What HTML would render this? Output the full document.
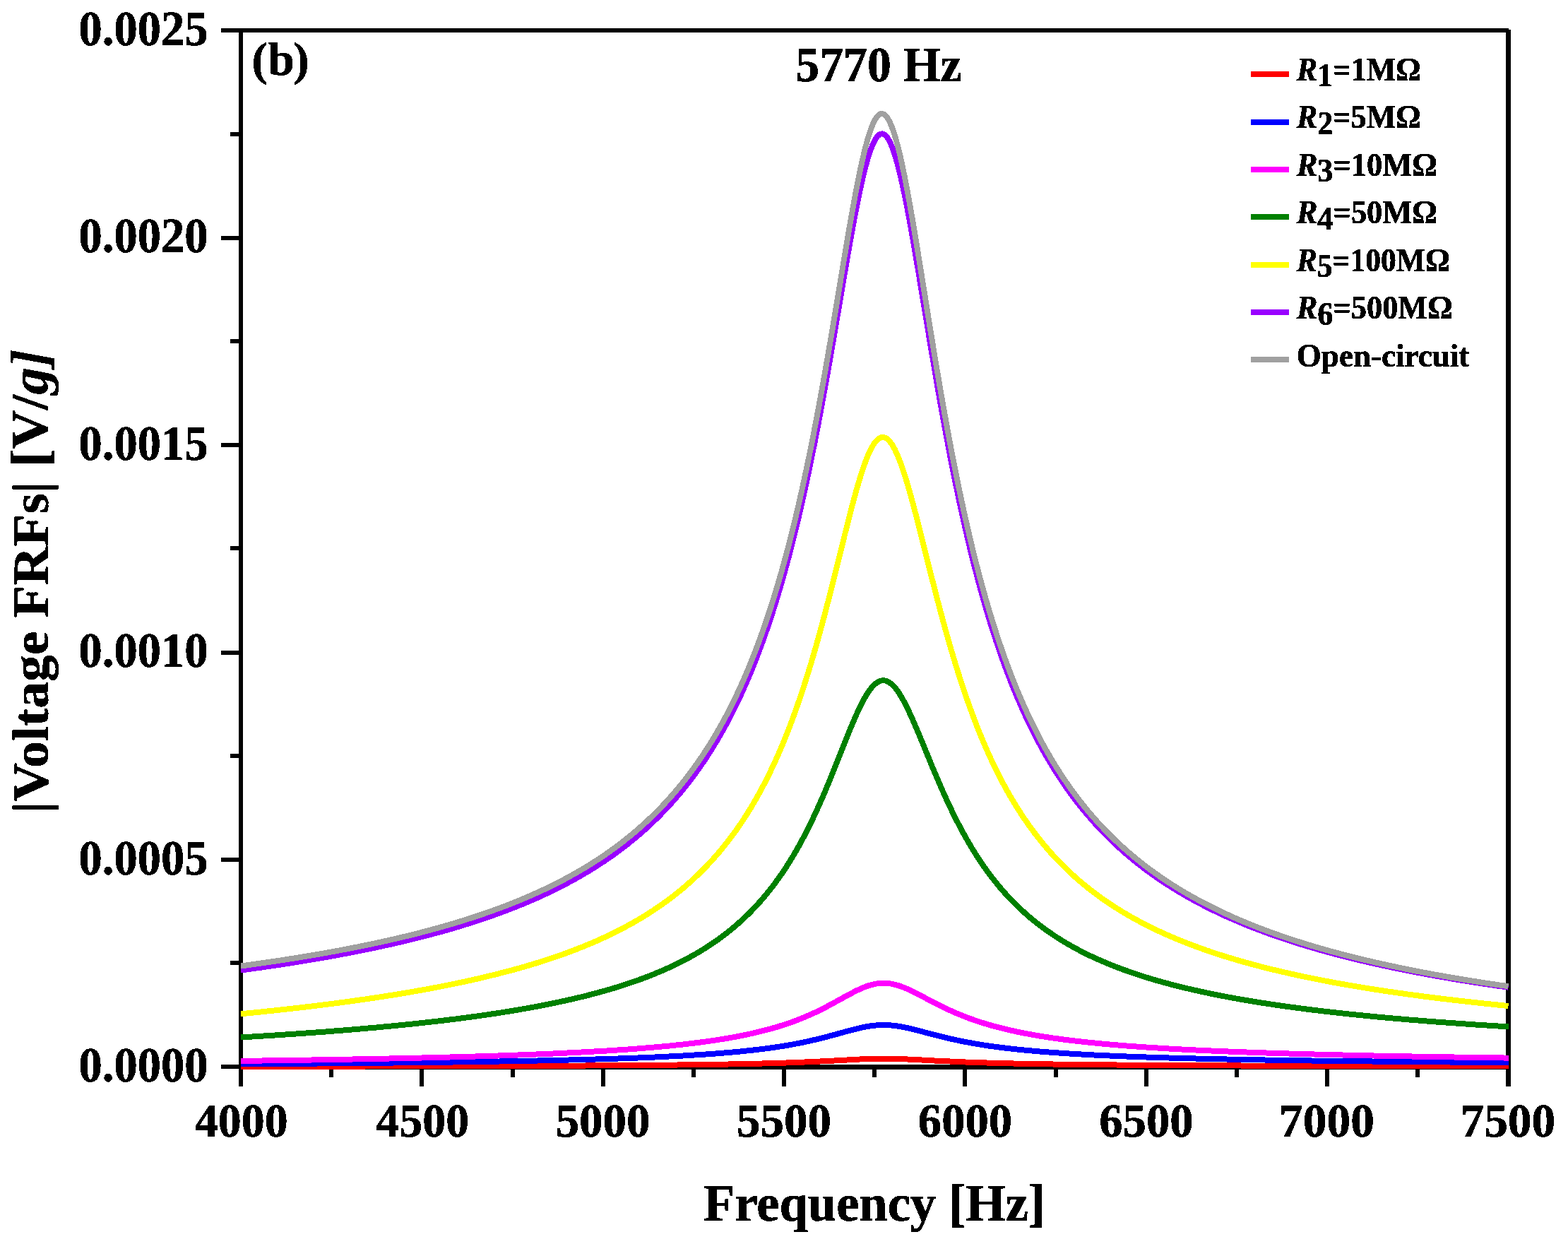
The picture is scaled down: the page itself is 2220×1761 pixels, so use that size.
<!DOCTYPE html>
<html lang="en">
<head>
<meta charset="utf-8">
<title>Voltage FRFs</title>
<style>
html,body{margin:0;padding:0;background:#fff;}
body{width:2220px;height:1761px;overflow:hidden;}
svg{display:block;}
text{font-family:'Liberation Serif','Times New Roman',serif;font-weight:bold;fill:#000;stroke:#000;stroke-width:0.7px;stroke-linejoin:round;}
.ax{fill:#000;shape-rendering:crispEdges;}
.cv{fill:none;stroke-linejoin:round;stroke-linecap:butt;shape-rendering:crispEdges;}
</style>
</head>
<body>
<svg width="2220" height="1761" viewBox="0 0 2220 1761">
<defs>
<filter id="bin" x="-5%" y="-10%" width="110%" height="120%" color-interpolation-filters="sRGB">
<feComponentTransfer><feFuncA type="discrete" tableValues="0 1"/></feComponentTransfer>
</filter>
</defs>
<rect x="0" y="0" width="2220" height="1761" fill="#ffffff"/>
<g class="ax">
<rect x="338" y="40" width="6" height="1498"/>
<rect x="313" y="40" width="1823" height="6"/>
<rect x="2132" y="42" width="7" height="1496"/>
<rect x="313" y="1507" width="25" height="6"/>
<rect x="338" y="1507" width="1801" height="7"/>
<rect x="313" y="334" width="25" height="6"/>
<rect x="313" y="627" width="25" height="6"/>
<rect x="313" y="921" width="25" height="6"/>
<rect x="313" y="1214" width="25" height="6"/>
<rect x="326" y="187" width="12" height="6"/>
<rect x="326" y="480" width="12" height="6"/>
<rect x="326" y="773" width="12" height="6"/>
<rect x="326" y="1067" width="12" height="6"/>
<rect x="326" y="1360" width="12" height="6"/>
<rect x="594" y="1510" width="6" height="28"/>
<rect x="851" y="1510" width="6" height="28"/>
<rect x="1107" y="1510" width="6" height="28"/>
<rect x="1363" y="1510" width="6" height="28"/>
<rect x="1620" y="1510" width="6" height="28"/>
<rect x="1876" y="1510" width="6" height="28"/>
<rect x="466" y="1510" width="6" height="15"/>
<rect x="723" y="1510" width="6" height="15"/>
<rect x="979" y="1510" width="6" height="15"/>
<rect x="1235" y="1510" width="6" height="15"/>
<rect x="1492" y="1510" width="6" height="15"/>
<rect x="1748" y="1510" width="6" height="15"/>
<rect x="2004" y="1510" width="6" height="15"/>
</g>
<g class="cv" stroke-width="8">
<path stroke="#ff0000" d="M341.0 1509.7 L343.0 1509.7 L345.0 1509.7 L347.0 1509.7 L349.0 1509.7 L351.0 1509.7 L353.0 1509.7 L355.0 1509.7 L357.0 1509.7 L359.0 1509.7 L361.0 1509.7 L363.0 1509.7 L365.0 1509.7 L367.0 1509.7 L369.0 1509.7 L371.0 1509.7 L373.0 1509.7 L375.0 1509.7 L377.0 1509.7 L379.0 1509.7 L381.0 1509.7 L383.0 1509.7 L385.0 1509.7 L387.0 1509.7 L389.0 1509.7 L391.0 1509.7 L393.0 1509.7 L395.0 1509.7 L397.0 1509.6 L399.0 1509.6 L401.0 1509.6 L403.0 1509.6 L405.0 1509.6 L407.0 1509.6 L409.0 1509.6 L411.0 1509.6 L413.0 1509.6 L415.0 1509.6 L417.0 1509.6 L419.0 1509.6 L421.0 1509.6 L423.0 1509.6 L425.0 1509.6 L427.0 1509.6 L429.0 1509.6 L431.0 1509.6 L433.0 1509.6 L435.0 1509.6 L437.0 1509.6 L439.0 1509.6 L441.0 1509.6 L443.0 1509.6 L445.0 1509.6 L447.0 1509.6 L449.0 1509.6 L451.0 1509.6 L453.0 1509.6 L455.0 1509.6 L457.0 1509.6 L459.0 1509.6 L461.0 1509.6 L463.0 1509.5 L465.0 1509.5 L467.0 1509.5 L469.0 1509.5 L471.0 1509.5 L473.0 1509.5 L475.0 1509.5 L477.0 1509.5 L479.0 1509.5 L481.0 1509.5 L483.0 1509.5 L485.0 1509.5 L487.0 1509.5 L489.0 1509.5 L491.0 1509.5 L493.0 1509.5 L495.0 1509.5 L497.0 1509.5 L499.0 1509.5 L501.0 1509.5 L503.0 1509.5 L505.0 1509.5 L507.0 1509.5 L509.0 1509.5 L511.0 1509.5 L513.0 1509.5 L515.0 1509.5 L517.0 1509.5 L519.0 1509.4 L521.0 1509.4 L523.0 1509.4 L525.0 1509.4 L527.0 1509.4 L529.0 1509.4 L531.0 1509.4 L533.0 1509.4 L535.0 1509.4 L537.0 1509.4 L539.0 1509.4 L541.0 1509.4 L543.0 1509.4 L545.0 1509.4 L547.0 1509.4 L549.0 1509.4 L551.0 1509.4 L553.0 1509.4 L555.0 1509.4 L557.0 1509.4 L559.0 1509.4 L561.0 1509.4 L563.0 1509.4 L565.0 1509.4 L567.0 1509.4 L569.0 1509.3 L571.0 1509.3 L573.0 1509.3 L575.0 1509.3 L577.0 1509.3 L579.0 1509.3 L581.0 1509.3 L583.0 1509.3 L585.0 1509.3 L587.0 1509.3 L589.0 1509.3 L591.0 1509.3 L593.0 1509.3 L595.0 1509.3 L597.0 1509.3 L599.0 1509.3 L601.0 1509.3 L603.0 1509.3 L605.0 1509.3 L607.0 1509.3 L609.0 1509.3 L611.0 1509.3 L613.0 1509.2 L615.0 1509.2 L617.0 1509.2 L619.0 1509.2 L621.0 1509.2 L623.0 1509.2 L625.0 1509.2 L627.0 1509.2 L629.0 1509.2 L631.0 1509.2 L633.0 1509.2 L635.0 1509.2 L637.0 1509.2 L639.0 1509.2 L641.0 1509.2 L643.0 1509.2 L645.0 1509.2 L647.0 1509.2 L649.0 1509.2 L651.0 1509.1 L653.0 1509.1 L655.0 1509.1 L657.0 1509.1 L659.0 1509.1 L661.0 1509.1 L663.0 1509.1 L665.0 1509.1 L667.0 1509.1 L669.0 1509.1 L671.0 1509.1 L673.0 1509.1 L675.0 1509.1 L677.0 1509.1 L679.0 1509.1 L681.0 1509.1 L683.0 1509.1 L685.0 1509.0 L687.0 1509.0 L689.0 1509.0 L691.0 1509.0 L693.0 1509.0 L695.0 1509.0 L697.0 1509.0 L699.0 1509.0 L701.0 1509.0 L703.0 1509.0 L705.0 1509.0 L707.0 1509.0 L709.0 1509.0 L711.0 1509.0 L713.0 1509.0 L715.0 1508.9 L717.0 1508.9 L719.0 1508.9 L721.0 1508.9 L723.0 1508.9 L725.0 1508.9 L727.0 1508.9 L729.0 1508.9 L731.0 1508.9 L733.0 1508.9 L735.0 1508.9 L737.0 1508.9 L739.0 1508.9 L741.0 1508.9 L743.0 1508.8 L745.0 1508.8 L747.0 1508.8 L749.0 1508.8 L751.0 1508.8 L753.0 1508.8 L755.0 1508.8 L757.0 1508.8 L759.0 1508.8 L761.0 1508.8 L763.0 1508.8 L765.0 1508.8 L767.0 1508.8 L769.0 1508.7 L771.0 1508.7 L773.0 1508.7 L775.0 1508.7 L777.0 1508.7 L779.0 1508.7 L781.0 1508.7 L783.0 1508.7 L785.0 1508.7 L787.0 1508.7 L789.0 1508.7 L791.0 1508.6 L793.0 1508.6 L795.0 1508.6 L797.0 1508.6 L799.0 1508.6 L801.0 1508.6 L803.0 1508.6 L805.0 1508.6 L807.0 1508.6 L809.0 1508.6 L811.0 1508.5 L813.0 1508.5 L815.0 1508.5 L817.0 1508.5 L819.0 1508.5 L821.0 1508.5 L823.0 1508.5 L825.0 1508.5 L827.0 1508.5 L829.0 1508.5 L831.0 1508.4 L833.0 1508.4 L835.0 1508.4 L837.0 1508.4 L839.0 1508.4 L841.0 1508.4 L843.0 1508.4 L845.0 1508.4 L847.0 1508.4 L849.0 1508.3 L851.0 1508.3 L853.0 1508.3 L855.0 1508.3 L857.0 1508.3 L859.0 1508.3 L861.0 1508.3 L863.0 1508.3 L865.0 1508.2 L867.0 1508.2 L869.0 1508.2 L871.0 1508.2 L873.0 1508.2 L875.0 1508.2 L877.0 1508.2 L879.0 1508.1 L881.0 1508.1 L883.0 1508.1 L885.0 1508.1 L887.0 1508.1 L889.0 1508.1 L891.0 1508.1 L893.0 1508.0 L895.0 1508.0 L897.0 1508.0 L899.0 1508.0 L901.0 1508.0 L903.0 1508.0 L905.0 1508.0 L907.0 1507.9 L909.0 1507.9 L911.0 1507.9 L913.0 1507.9 L915.0 1507.9 L917.0 1507.9 L919.0 1507.8 L921.0 1507.8 L923.0 1507.8 L925.0 1507.8 L927.0 1507.8 L929.0 1507.8 L931.0 1507.7 L933.0 1507.7 L935.0 1507.7 L937.0 1507.7 L939.0 1507.7 L941.0 1507.6 L943.0 1507.6 L945.0 1507.6 L947.0 1507.6 L949.0 1507.6 L951.0 1507.5 L953.0 1507.5 L955.0 1507.5 L957.0 1507.5 L959.0 1507.5 L961.0 1507.4 L963.0 1507.4 L965.0 1507.4 L967.0 1507.4 L969.0 1507.4 L971.0 1507.3 L973.0 1507.3 L975.0 1507.3 L977.0 1507.3 L979.0 1507.2 L981.0 1507.2 L983.0 1507.2 L985.0 1507.2 L987.0 1507.1 L989.0 1507.1 L991.0 1507.1 L993.0 1507.1 L995.0 1507.0 L997.0 1507.0 L999.0 1507.0 L1001.0 1506.9 L1003.0 1506.9 L1005.0 1506.9 L1007.0 1506.9 L1009.0 1506.8 L1011.0 1506.8 L1013.0 1506.8 L1015.0 1506.7 L1017.0 1506.7 L1019.0 1506.7 L1021.0 1506.6 L1023.0 1506.6 L1025.0 1506.6 L1027.0 1506.6 L1029.0 1506.5 L1031.0 1506.5 L1033.0 1506.4 L1035.0 1506.4 L1037.0 1506.4 L1039.0 1506.3 L1041.0 1506.3 L1043.0 1506.3 L1045.0 1506.2 L1047.0 1506.2 L1049.0 1506.1 L1051.0 1506.1 L1053.0 1506.1 L1055.0 1506.0 L1057.0 1506.0 L1059.0 1505.9 L1061.0 1505.9 L1063.0 1505.9 L1065.0 1505.8 L1067.0 1505.8 L1069.0 1505.7 L1071.0 1505.7 L1073.0 1505.6 L1075.0 1505.6 L1077.0 1505.5 L1079.0 1505.5 L1081.0 1505.4 L1083.0 1505.4 L1085.0 1505.3 L1087.0 1505.3 L1089.0 1505.2 L1091.0 1505.2 L1093.0 1505.1 L1095.0 1505.0 L1097.0 1505.0 L1099.0 1504.9 L1101.0 1504.9 L1103.0 1504.8 L1105.0 1504.7 L1107.0 1504.7 L1109.0 1504.6 L1111.0 1504.6 L1113.0 1504.5 L1115.0 1504.4 L1117.0 1504.3 L1119.0 1504.3 L1121.0 1504.2 L1123.0 1504.1 L1125.0 1504.1 L1127.0 1504.0 L1129.0 1503.9 L1131.0 1503.8 L1133.0 1503.7 L1135.0 1503.7 L1137.0 1503.6 L1139.0 1503.5 L1141.0 1503.4 L1143.0 1503.3 L1145.0 1503.2 L1147.0 1503.2 L1149.0 1503.1 L1151.0 1503.0 L1153.0 1502.9 L1155.0 1502.8 L1157.0 1502.7 L1159.0 1502.6 L1161.0 1502.5 L1163.0 1502.4 L1165.0 1502.3 L1167.0 1502.2 L1169.0 1502.1 L1171.0 1502.0 L1173.0 1501.9 L1175.0 1501.8 L1177.0 1501.7 L1179.0 1501.6 L1181.0 1501.5 L1183.0 1501.3 L1185.0 1501.2 L1187.0 1501.1 L1189.0 1501.0 L1191.0 1500.9 L1193.0 1500.8 L1195.0 1500.7 L1197.0 1500.6 L1199.0 1500.5 L1201.0 1500.3 L1203.0 1500.2 L1205.0 1500.1 L1207.0 1500.0 L1209.0 1499.9 L1211.0 1499.8 L1213.0 1499.7 L1215.0 1499.6 L1217.0 1499.5 L1219.0 1499.4 L1221.0 1499.4 L1223.0 1499.3 L1225.0 1499.2 L1227.0 1499.1 L1229.0 1499.0 L1231.0 1499.0 L1233.0 1498.9 L1235.0 1498.9 L1237.0 1498.8 L1239.0 1498.8 L1241.0 1498.7 L1243.0 1498.7 L1245.0 1498.7 L1247.0 1498.7 L1249.0 1498.7 L1251.0 1498.7 L1253.0 1498.7 L1255.0 1498.7 L1257.0 1498.7 L1259.0 1498.7 L1261.0 1498.7 L1263.0 1498.8 L1265.0 1498.8 L1267.0 1498.9 L1269.0 1498.9 L1271.0 1499.0 L1273.0 1499.0 L1275.0 1499.1 L1277.0 1499.2 L1279.0 1499.3 L1281.0 1499.3 L1283.0 1499.4 L1285.0 1499.5 L1287.0 1499.6 L1289.0 1499.7 L1291.0 1499.8 L1293.0 1499.9 L1295.0 1500.0 L1297.0 1500.1 L1299.0 1500.2 L1301.0 1500.3 L1303.0 1500.4 L1305.0 1500.5 L1307.0 1500.6 L1309.0 1500.7 L1311.0 1500.8 L1313.0 1500.9 L1315.0 1501.0 L1317.0 1501.1 L1319.0 1501.2 L1321.0 1501.4 L1323.0 1501.5 L1325.0 1501.6 L1327.0 1501.7 L1329.0 1501.8 L1331.0 1501.9 L1333.0 1502.0 L1335.0 1502.1 L1337.0 1502.2 L1339.0 1502.3 L1341.0 1502.3 L1343.0 1502.4 L1345.0 1502.5 L1347.0 1502.6 L1349.0 1502.7 L1351.0 1502.8 L1353.0 1502.9 L1355.0 1503.0 L1357.0 1503.1 L1359.0 1503.1 L1361.0 1503.2 L1363.0 1503.3 L1365.0 1503.4 L1367.0 1503.5 L1369.0 1503.5 L1371.0 1503.6 L1373.0 1503.7 L1375.0 1503.8 L1377.0 1503.8 L1379.0 1503.9 L1381.0 1504.0 L1383.0 1504.0 L1385.0 1504.1 L1387.0 1504.2 L1389.0 1504.2 L1391.0 1504.3 L1393.0 1504.4 L1395.0 1504.4 L1397.0 1504.5 L1399.0 1504.5 L1401.0 1504.6 L1403.0 1504.7 L1405.0 1504.7 L1407.0 1504.8 L1409.0 1504.8 L1411.0 1504.9 L1413.0 1504.9 L1415.0 1505.0 L1417.0 1505.0 L1419.0 1505.1 L1421.0 1505.1 L1423.0 1505.2 L1425.0 1505.2 L1427.0 1505.3 L1429.0 1505.3 L1431.0 1505.4 L1433.0 1505.4 L1435.0 1505.5 L1437.0 1505.5 L1439.0 1505.6 L1441.0 1505.6 L1443.0 1505.6 L1445.0 1505.7 L1447.0 1505.7 L1449.0 1505.8 L1451.0 1505.8 L1453.0 1505.8 L1455.0 1505.9 L1457.0 1505.9 L1459.0 1505.9 L1461.0 1506.0 L1463.0 1506.0 L1465.0 1506.1 L1467.0 1506.1 L1469.0 1506.1 L1471.0 1506.2 L1473.0 1506.2 L1475.0 1506.2 L1477.0 1506.3 L1479.0 1506.3 L1481.0 1506.3 L1483.0 1506.3 L1485.0 1506.4 L1487.0 1506.4 L1489.0 1506.4 L1491.0 1506.5 L1493.0 1506.5 L1495.0 1506.5 L1497.0 1506.6 L1499.0 1506.6 L1501.0 1506.6 L1503.0 1506.6 L1505.0 1506.7 L1507.0 1506.7 L1509.0 1506.7 L1511.0 1506.7 L1513.0 1506.8 L1515.0 1506.8 L1517.0 1506.8 L1519.0 1506.8 L1521.0 1506.9 L1523.0 1506.9 L1525.0 1506.9 L1527.0 1506.9 L1529.0 1507.0 L1531.0 1507.0 L1533.0 1507.0 L1535.0 1507.0 L1537.0 1507.0 L1539.0 1507.1 L1541.0 1507.1 L1543.0 1507.1 L1545.0 1507.1 L1547.0 1507.1 L1549.0 1507.2 L1551.0 1507.2 L1553.0 1507.2 L1555.0 1507.2 L1557.0 1507.2 L1559.0 1507.3 L1561.0 1507.3 L1563.0 1507.3 L1565.0 1507.3 L1567.0 1507.3 L1569.0 1507.4 L1571.0 1507.4 L1573.0 1507.4 L1575.0 1507.4 L1577.0 1507.4 L1579.0 1507.4 L1581.0 1507.5 L1583.0 1507.5 L1585.0 1507.5 L1587.0 1507.5 L1589.0 1507.5 L1591.0 1507.5 L1593.0 1507.6 L1595.0 1507.6 L1597.0 1507.6 L1599.0 1507.6 L1601.0 1507.6 L1603.0 1507.6 L1605.0 1507.6 L1607.0 1507.7 L1609.0 1507.7 L1611.0 1507.7 L1613.0 1507.7 L1615.0 1507.7 L1617.0 1507.7 L1619.0 1507.7 L1621.0 1507.8 L1623.0 1507.8 L1625.0 1507.8 L1627.0 1507.8 L1629.0 1507.8 L1631.0 1507.8 L1633.0 1507.8 L1635.0 1507.9 L1637.0 1507.9 L1639.0 1507.9 L1641.0 1507.9 L1643.0 1507.9 L1645.0 1507.9 L1647.0 1507.9 L1649.0 1507.9 L1651.0 1508.0 L1653.0 1508.0 L1655.0 1508.0 L1657.0 1508.0 L1659.0 1508.0 L1661.0 1508.0 L1663.0 1508.0 L1665.0 1508.0 L1667.0 1508.0 L1669.0 1508.1 L1671.0 1508.1 L1673.0 1508.1 L1675.0 1508.1 L1677.0 1508.1 L1679.0 1508.1 L1681.0 1508.1 L1683.0 1508.1 L1685.0 1508.1 L1687.0 1508.1 L1689.0 1508.2 L1691.0 1508.2 L1693.0 1508.2 L1695.0 1508.2 L1697.0 1508.2 L1699.0 1508.2 L1701.0 1508.2 L1703.0 1508.2 L1705.0 1508.2 L1707.0 1508.2 L1709.0 1508.3 L1711.0 1508.3 L1713.0 1508.3 L1715.0 1508.3 L1717.0 1508.3 L1719.0 1508.3 L1721.0 1508.3 L1723.0 1508.3 L1725.0 1508.3 L1727.0 1508.3 L1729.0 1508.3 L1731.0 1508.3 L1733.0 1508.4 L1735.0 1508.4 L1737.0 1508.4 L1739.0 1508.4 L1741.0 1508.4 L1743.0 1508.4 L1745.0 1508.4 L1747.0 1508.4 L1749.0 1508.4 L1751.0 1508.4 L1753.0 1508.4 L1755.0 1508.4 L1757.0 1508.5 L1759.0 1508.5 L1761.0 1508.5 L1763.0 1508.5 L1765.0 1508.5 L1767.0 1508.5 L1769.0 1508.5 L1771.0 1508.5 L1773.0 1508.5 L1775.0 1508.5 L1777.0 1508.5 L1779.0 1508.5 L1781.0 1508.5 L1783.0 1508.5 L1785.0 1508.6 L1787.0 1508.6 L1789.0 1508.6 L1791.0 1508.6 L1793.0 1508.6 L1795.0 1508.6 L1797.0 1508.6 L1799.0 1508.6 L1801.0 1508.6 L1803.0 1508.6 L1805.0 1508.6 L1807.0 1508.6 L1809.0 1508.6 L1811.0 1508.6 L1813.0 1508.6 L1815.0 1508.6 L1817.0 1508.7 L1819.0 1508.7 L1821.0 1508.7 L1823.0 1508.7 L1825.0 1508.7 L1827.0 1508.7 L1829.0 1508.7 L1831.0 1508.7 L1833.0 1508.7 L1835.0 1508.7 L1837.0 1508.7 L1839.0 1508.7 L1841.0 1508.7 L1843.0 1508.7 L1845.0 1508.7 L1847.0 1508.7 L1849.0 1508.7 L1851.0 1508.8 L1853.0 1508.8 L1855.0 1508.8 L1857.0 1508.8 L1859.0 1508.8 L1861.0 1508.8 L1863.0 1508.8 L1865.0 1508.8 L1867.0 1508.8 L1869.0 1508.8 L1871.0 1508.8 L1873.0 1508.8 L1875.0 1508.8 L1877.0 1508.8 L1879.0 1508.8 L1881.0 1508.8 L1883.0 1508.8 L1885.0 1508.8 L1887.0 1508.8 L1889.0 1508.9 L1891.0 1508.9 L1893.0 1508.9 L1895.0 1508.9 L1897.0 1508.9 L1899.0 1508.9 L1901.0 1508.9 L1903.0 1508.9 L1905.0 1508.9 L1907.0 1508.9 L1909.0 1508.9 L1911.0 1508.9 L1913.0 1508.9 L1915.0 1508.9 L1917.0 1508.9 L1919.0 1508.9 L1921.0 1508.9 L1923.0 1508.9 L1925.0 1508.9 L1927.0 1508.9 L1929.0 1508.9 L1931.0 1508.9 L1933.0 1509.0 L1935.0 1509.0 L1937.0 1509.0 L1939.0 1509.0 L1941.0 1509.0 L1943.0 1509.0 L1945.0 1509.0 L1947.0 1509.0 L1949.0 1509.0 L1951.0 1509.0 L1953.0 1509.0 L1955.0 1509.0 L1957.0 1509.0 L1959.0 1509.0 L1961.0 1509.0 L1963.0 1509.0 L1965.0 1509.0 L1967.0 1509.0 L1969.0 1509.0 L1971.0 1509.0 L1973.0 1509.0 L1975.0 1509.0 L1977.0 1509.0 L1979.0 1509.0 L1981.0 1509.0 L1983.0 1509.1 L1985.0 1509.1 L1987.0 1509.1 L1989.0 1509.1 L1991.0 1509.1 L1993.0 1509.1 L1995.0 1509.1 L1997.0 1509.1 L1999.0 1509.1 L2001.0 1509.1 L2003.0 1509.1 L2005.0 1509.1 L2007.0 1509.1 L2009.0 1509.1 L2011.0 1509.1 L2013.0 1509.1 L2015.0 1509.1 L2017.0 1509.1 L2019.0 1509.1 L2021.0 1509.1 L2023.0 1509.1 L2025.0 1509.1 L2027.0 1509.1 L2029.0 1509.1 L2031.0 1509.1 L2033.0 1509.1 L2035.0 1509.1 L2037.0 1509.1 L2039.0 1509.1 L2041.0 1509.2 L2043.0 1509.2 L2045.0 1509.2 L2047.0 1509.2 L2049.0 1509.2 L2051.0 1509.2 L2053.0 1509.2 L2055.0 1509.2 L2057.0 1509.2 L2059.0 1509.2 L2061.0 1509.2 L2063.0 1509.2 L2065.0 1509.2 L2067.0 1509.2 L2069.0 1509.2 L2071.0 1509.2 L2073.0 1509.2 L2075.0 1509.2 L2077.0 1509.2 L2079.0 1509.2 L2081.0 1509.2 L2083.0 1509.2 L2085.0 1509.2 L2087.0 1509.2 L2089.0 1509.2 L2091.0 1509.2 L2093.0 1509.2 L2095.0 1509.2 L2097.0 1509.2 L2099.0 1509.2 L2101.0 1509.2 L2103.0 1509.2 L2105.0 1509.2 L2107.0 1509.2 L2109.0 1509.3 L2111.0 1509.3 L2113.0 1509.3 L2115.0 1509.3 L2117.0 1509.3 L2119.0 1509.3 L2121.0 1509.3 L2123.0 1509.3 L2125.0 1509.3 L2127.0 1509.3 L2129.0 1509.3 L2131.0 1509.3 L2133.0 1509.3 L2135.0 1509.3 L2135.5 1509.3"/>
<path stroke="#0000ff" d="M341.0 1506.2 L343.0 1506.2 L345.0 1506.2 L347.0 1506.2 L349.0 1506.2 L351.0 1506.2 L353.0 1506.1 L355.0 1506.1 L357.0 1506.1 L359.0 1506.1 L361.0 1506.1 L363.0 1506.1 L365.0 1506.1 L367.0 1506.0 L369.0 1506.0 L371.0 1506.0 L373.0 1506.0 L375.0 1506.0 L377.0 1506.0 L379.0 1506.0 L381.0 1506.0 L383.0 1505.9 L385.0 1505.9 L387.0 1505.9 L389.0 1505.9 L391.0 1505.9 L393.0 1505.9 L395.0 1505.9 L397.0 1505.8 L399.0 1505.8 L401.0 1505.8 L403.0 1505.8 L405.0 1505.8 L407.0 1505.8 L409.0 1505.8 L411.0 1505.7 L413.0 1505.7 L415.0 1505.7 L417.0 1505.7 L419.0 1505.7 L421.0 1505.7 L423.0 1505.7 L425.0 1505.6 L427.0 1505.6 L429.0 1505.6 L431.0 1505.6 L433.0 1505.6 L435.0 1505.6 L437.0 1505.6 L439.0 1505.5 L441.0 1505.5 L443.0 1505.5 L445.0 1505.5 L447.0 1505.5 L449.0 1505.5 L451.0 1505.4 L453.0 1505.4 L455.0 1505.4 L457.0 1505.4 L459.0 1505.4 L461.0 1505.4 L463.0 1505.3 L465.0 1505.3 L467.0 1505.3 L469.0 1505.3 L471.0 1505.3 L473.0 1505.3 L475.0 1505.2 L477.0 1505.2 L479.0 1505.2 L481.0 1505.2 L483.0 1505.2 L485.0 1505.2 L487.0 1505.1 L489.0 1505.1 L491.0 1505.1 L493.0 1505.1 L495.0 1505.1 L497.0 1505.1 L499.0 1505.0 L501.0 1505.0 L503.0 1505.0 L505.0 1505.0 L507.0 1505.0 L509.0 1504.9 L511.0 1504.9 L513.0 1504.9 L515.0 1504.9 L517.0 1504.9 L519.0 1504.8 L521.0 1504.8 L523.0 1504.8 L525.0 1504.8 L527.0 1504.8 L529.0 1504.8 L531.0 1504.7 L533.0 1504.7 L535.0 1504.7 L537.0 1504.7 L539.0 1504.7 L541.0 1504.6 L543.0 1504.6 L545.0 1504.6 L547.0 1504.6 L549.0 1504.6 L551.0 1504.5 L553.0 1504.5 L555.0 1504.5 L557.0 1504.5 L559.0 1504.4 L561.0 1504.4 L563.0 1504.4 L565.0 1504.4 L567.0 1504.4 L569.0 1504.3 L571.0 1504.3 L573.0 1504.3 L575.0 1504.3 L577.0 1504.3 L579.0 1504.2 L581.0 1504.2 L583.0 1504.2 L585.0 1504.2 L587.0 1504.1 L589.0 1504.1 L591.0 1504.1 L593.0 1504.1 L595.0 1504.0 L597.0 1504.0 L599.0 1504.0 L601.0 1504.0 L603.0 1504.0 L605.0 1503.9 L607.0 1503.9 L609.0 1503.9 L611.0 1503.9 L613.0 1503.8 L615.0 1503.8 L617.0 1503.8 L619.0 1503.8 L621.0 1503.7 L623.0 1503.7 L625.0 1503.7 L627.0 1503.7 L629.0 1503.6 L631.0 1503.6 L633.0 1503.6 L635.0 1503.6 L637.0 1503.5 L639.0 1503.5 L641.0 1503.5 L643.0 1503.4 L645.0 1503.4 L647.0 1503.4 L649.0 1503.4 L651.0 1503.3 L653.0 1503.3 L655.0 1503.3 L657.0 1503.3 L659.0 1503.2 L661.0 1503.2 L663.0 1503.2 L665.0 1503.1 L667.0 1503.1 L669.0 1503.1 L671.0 1503.0 L673.0 1503.0 L675.0 1503.0 L677.0 1503.0 L679.0 1502.9 L681.0 1502.9 L683.0 1502.9 L685.0 1502.8 L687.0 1502.8 L689.0 1502.8 L691.0 1502.7 L693.0 1502.7 L695.0 1502.7 L697.0 1502.6 L699.0 1502.6 L701.0 1502.6 L703.0 1502.5 L705.0 1502.5 L707.0 1502.5 L709.0 1502.4 L711.0 1502.4 L713.0 1502.4 L715.0 1502.3 L717.0 1502.3 L719.0 1502.3 L721.0 1502.2 L723.0 1502.2 L725.0 1502.2 L727.0 1502.1 L729.0 1502.1 L731.0 1502.1 L733.0 1502.0 L735.0 1502.0 L737.0 1502.0 L739.0 1501.9 L741.0 1501.9 L743.0 1501.8 L745.0 1501.8 L747.0 1501.8 L749.0 1501.7 L751.0 1501.7 L753.0 1501.6 L755.0 1501.6 L757.0 1501.6 L759.0 1501.5 L761.0 1501.5 L763.0 1501.4 L765.0 1501.4 L767.0 1501.4 L769.0 1501.3 L771.0 1501.3 L773.0 1501.2 L775.0 1501.2 L777.0 1501.1 L779.0 1501.1 L781.0 1501.1 L783.0 1501.0 L785.0 1501.0 L787.0 1500.9 L789.0 1500.9 L791.0 1500.8 L793.0 1500.8 L795.0 1500.7 L797.0 1500.7 L799.0 1500.6 L801.0 1500.6 L803.0 1500.5 L805.0 1500.5 L807.0 1500.4 L809.0 1500.4 L811.0 1500.3 L813.0 1500.3 L815.0 1500.2 L817.0 1500.2 L819.0 1500.1 L821.0 1500.1 L823.0 1500.0 L825.0 1500.0 L827.0 1499.9 L829.0 1499.9 L831.0 1499.8 L833.0 1499.8 L835.0 1499.7 L837.0 1499.7 L839.0 1499.6 L841.0 1499.5 L843.0 1499.5 L845.0 1499.4 L847.0 1499.4 L849.0 1499.3 L851.0 1499.3 L853.0 1499.2 L855.0 1499.1 L857.0 1499.1 L859.0 1499.0 L861.0 1498.9 L863.0 1498.9 L865.0 1498.8 L867.0 1498.8 L869.0 1498.7 L871.0 1498.6 L873.0 1498.6 L875.0 1498.5 L877.0 1498.4 L879.0 1498.4 L881.0 1498.3 L883.0 1498.2 L885.0 1498.1 L887.0 1498.1 L889.0 1498.0 L891.0 1497.9 L893.0 1497.9 L895.0 1497.8 L897.0 1497.7 L899.0 1497.6 L901.0 1497.6 L903.0 1497.5 L905.0 1497.4 L907.0 1497.3 L909.0 1497.2 L911.0 1497.2 L913.0 1497.1 L915.0 1497.0 L917.0 1496.9 L919.0 1496.8 L921.0 1496.7 L923.0 1496.7 L925.0 1496.6 L927.0 1496.5 L929.0 1496.4 L931.0 1496.3 L933.0 1496.2 L935.0 1496.1 L937.0 1496.0 L939.0 1495.9 L941.0 1495.8 L943.0 1495.7 L945.0 1495.6 L947.0 1495.5 L949.0 1495.4 L951.0 1495.3 L953.0 1495.2 L955.0 1495.1 L957.0 1495.0 L959.0 1494.9 L961.0 1494.8 L963.0 1494.7 L965.0 1494.6 L967.0 1494.5 L969.0 1494.4 L971.0 1494.3 L973.0 1494.1 L975.0 1494.0 L977.0 1493.9 L979.0 1493.8 L981.0 1493.7 L983.0 1493.5 L985.0 1493.4 L987.0 1493.3 L989.0 1493.2 L991.0 1493.0 L993.0 1492.9 L995.0 1492.8 L997.0 1492.6 L999.0 1492.5 L1001.0 1492.4 L1003.0 1492.2 L1005.0 1492.1 L1007.0 1491.9 L1009.0 1491.8 L1011.0 1491.6 L1013.0 1491.5 L1015.0 1491.3 L1017.0 1491.2 L1019.0 1491.0 L1021.0 1490.9 L1023.0 1490.7 L1025.0 1490.5 L1027.0 1490.4 L1029.0 1490.2 L1031.0 1490.0 L1033.0 1489.9 L1035.0 1489.7 L1037.0 1489.5 L1039.0 1489.3 L1041.0 1489.1 L1043.0 1488.9 L1045.0 1488.8 L1047.0 1488.6 L1049.0 1488.4 L1051.0 1488.2 L1053.0 1488.0 L1055.0 1487.8 L1057.0 1487.5 L1059.0 1487.3 L1061.0 1487.1 L1063.0 1486.9 L1065.0 1486.7 L1067.0 1486.4 L1069.0 1486.2 L1071.0 1486.0 L1073.0 1485.7 L1075.0 1485.5 L1077.0 1485.3 L1079.0 1485.0 L1081.0 1484.8 L1083.0 1484.5 L1085.0 1484.2 L1087.0 1484.0 L1089.0 1483.7 L1091.0 1483.4 L1093.0 1483.1 L1095.0 1482.9 L1097.0 1482.6 L1099.0 1482.3 L1101.0 1482.0 L1103.0 1481.7 L1105.0 1481.3 L1107.0 1481.0 L1109.0 1480.7 L1111.0 1480.4 L1113.0 1480.0 L1115.0 1479.7 L1117.0 1479.4 L1119.0 1479.0 L1121.0 1478.7 L1123.0 1478.3 L1125.0 1477.9 L1127.0 1477.5 L1129.0 1477.2 L1131.0 1476.8 L1133.0 1476.4 L1135.0 1476.0 L1137.0 1475.6 L1139.0 1475.2 L1141.0 1474.7 L1143.0 1474.3 L1145.0 1473.9 L1147.0 1473.4 L1149.0 1473.0 L1151.0 1472.5 L1153.0 1472.0 L1155.0 1471.6 L1157.0 1471.1 L1159.0 1470.6 L1161.0 1470.1 L1163.0 1469.6 L1165.0 1469.1 L1167.0 1468.6 L1169.0 1468.1 L1171.0 1467.6 L1173.0 1467.0 L1175.0 1466.5 L1177.0 1466.0 L1179.0 1465.4 L1181.0 1464.9 L1183.0 1464.3 L1185.0 1463.8 L1187.0 1463.2 L1189.0 1462.7 L1191.0 1462.1 L1193.0 1461.6 L1195.0 1461.0 L1197.0 1460.5 L1199.0 1459.9 L1201.0 1459.4 L1203.0 1458.8 L1205.0 1458.3 L1207.0 1457.8 L1209.0 1457.3 L1211.0 1456.8 L1213.0 1456.3 L1215.0 1455.8 L1217.0 1455.3 L1219.0 1454.9 L1221.0 1454.4 L1223.0 1454.0 L1225.0 1453.6 L1227.0 1453.2 L1229.0 1452.9 L1231.0 1452.6 L1233.0 1452.3 L1235.0 1452.0 L1237.0 1451.8 L1239.0 1451.6 L1241.0 1451.4 L1243.0 1451.2 L1245.0 1451.1 L1247.0 1451.0 L1249.0 1451.0 L1251.0 1451.0 L1253.0 1451.0 L1255.0 1451.1 L1257.0 1451.1 L1259.0 1451.2 L1261.0 1451.4 L1263.0 1451.6 L1265.0 1451.8 L1267.0 1452.0 L1269.0 1452.3 L1271.0 1452.6 L1273.0 1452.9 L1275.0 1453.2 L1277.0 1453.6 L1279.0 1454.0 L1281.0 1454.4 L1283.0 1454.8 L1285.0 1455.2 L1287.0 1455.7 L1289.0 1456.2 L1291.0 1456.6 L1293.0 1457.1 L1295.0 1457.6 L1297.0 1458.1 L1299.0 1458.6 L1301.0 1459.2 L1303.0 1459.7 L1305.0 1460.2 L1307.0 1460.7 L1309.0 1461.3 L1311.0 1461.8 L1313.0 1462.3 L1315.0 1462.8 L1317.0 1463.4 L1319.0 1463.9 L1321.0 1464.4 L1323.0 1464.9 L1325.0 1465.4 L1327.0 1466.0 L1329.0 1466.5 L1331.0 1467.0 L1333.0 1467.5 L1335.0 1468.0 L1337.0 1468.4 L1339.0 1468.9 L1341.0 1469.4 L1343.0 1469.9 L1345.0 1470.3 L1347.0 1470.8 L1349.0 1471.2 L1351.0 1471.7 L1353.0 1472.1 L1355.0 1472.5 L1357.0 1472.9 L1359.0 1473.4 L1361.0 1473.8 L1363.0 1474.2 L1365.0 1474.6 L1367.0 1474.9 L1369.0 1475.3 L1371.0 1475.7 L1373.0 1476.1 L1375.0 1476.4 L1377.0 1476.8 L1379.0 1477.2 L1381.0 1477.5 L1383.0 1477.8 L1385.0 1478.2 L1387.0 1478.5 L1389.0 1478.8 L1391.0 1479.1 L1393.0 1479.5 L1395.0 1479.8 L1397.0 1480.1 L1399.0 1480.4 L1401.0 1480.7 L1403.0 1480.9 L1405.0 1481.2 L1407.0 1481.5 L1409.0 1481.8 L1411.0 1482.1 L1413.0 1482.3 L1415.0 1482.6 L1417.0 1482.8 L1419.0 1483.1 L1421.0 1483.3 L1423.0 1483.6 L1425.0 1483.8 L1427.0 1484.1 L1429.0 1484.3 L1431.0 1484.5 L1433.0 1484.7 L1435.0 1485.0 L1437.0 1485.2 L1439.0 1485.4 L1441.0 1485.6 L1443.0 1485.8 L1445.0 1486.0 L1447.0 1486.2 L1449.0 1486.4 L1451.0 1486.6 L1453.0 1486.8 L1455.0 1487.0 L1457.0 1487.2 L1459.0 1487.4 L1461.0 1487.5 L1463.0 1487.7 L1465.0 1487.9 L1467.0 1488.1 L1469.0 1488.2 L1471.0 1488.4 L1473.0 1488.6 L1475.0 1488.7 L1477.0 1488.9 L1479.0 1489.1 L1481.0 1489.2 L1483.0 1489.4 L1485.0 1489.5 L1487.0 1489.7 L1489.0 1489.8 L1491.0 1490.0 L1493.0 1490.1 L1495.0 1490.2 L1497.0 1490.4 L1499.0 1490.5 L1501.0 1490.7 L1503.0 1490.8 L1505.0 1490.9 L1507.0 1491.1 L1509.0 1491.2 L1511.0 1491.3 L1513.0 1491.4 L1515.0 1491.6 L1517.0 1491.7 L1519.0 1491.8 L1521.0 1491.9 L1523.0 1492.0 L1525.0 1492.2 L1527.0 1492.3 L1529.0 1492.4 L1531.0 1492.5 L1533.0 1492.6 L1535.0 1492.7 L1537.0 1492.8 L1539.0 1492.9 L1541.0 1493.0 L1543.0 1493.2 L1545.0 1493.3 L1547.0 1493.4 L1549.0 1493.5 L1551.0 1493.6 L1553.0 1493.7 L1555.0 1493.8 L1557.0 1493.8 L1559.0 1493.9 L1561.0 1494.0 L1563.0 1494.1 L1565.0 1494.2 L1567.0 1494.3 L1569.0 1494.4 L1571.0 1494.5 L1573.0 1494.6 L1575.0 1494.7 L1577.0 1494.8 L1579.0 1494.8 L1581.0 1494.9 L1583.0 1495.0 L1585.0 1495.1 L1587.0 1495.2 L1589.0 1495.2 L1591.0 1495.3 L1593.0 1495.4 L1595.0 1495.5 L1597.0 1495.6 L1599.0 1495.6 L1601.0 1495.7 L1603.0 1495.8 L1605.0 1495.9 L1607.0 1495.9 L1609.0 1496.0 L1611.0 1496.1 L1613.0 1496.1 L1615.0 1496.2 L1617.0 1496.3 L1619.0 1496.4 L1621.0 1496.4 L1623.0 1496.5 L1625.0 1496.6 L1627.0 1496.6 L1629.0 1496.7 L1631.0 1496.8 L1633.0 1496.8 L1635.0 1496.9 L1637.0 1496.9 L1639.0 1497.0 L1641.0 1497.1 L1643.0 1497.1 L1645.0 1497.2 L1647.0 1497.3 L1649.0 1497.3 L1651.0 1497.4 L1653.0 1497.4 L1655.0 1497.5 L1657.0 1497.5 L1659.0 1497.6 L1661.0 1497.7 L1663.0 1497.7 L1665.0 1497.8 L1667.0 1497.8 L1669.0 1497.9 L1671.0 1497.9 L1673.0 1498.0 L1675.0 1498.0 L1677.0 1498.1 L1679.0 1498.1 L1681.0 1498.2 L1683.0 1498.2 L1685.0 1498.3 L1687.0 1498.3 L1689.0 1498.4 L1691.0 1498.4 L1693.0 1498.5 L1695.0 1498.5 L1697.0 1498.6 L1699.0 1498.6 L1701.0 1498.7 L1703.0 1498.7 L1705.0 1498.8 L1707.0 1498.8 L1709.0 1498.9 L1711.0 1498.9 L1713.0 1499.0 L1715.0 1499.0 L1717.0 1499.1 L1719.0 1499.1 L1721.0 1499.1 L1723.0 1499.2 L1725.0 1499.2 L1727.0 1499.3 L1729.0 1499.3 L1731.0 1499.4 L1733.0 1499.4 L1735.0 1499.4 L1737.0 1499.5 L1739.0 1499.5 L1741.0 1499.6 L1743.0 1499.6 L1745.0 1499.6 L1747.0 1499.7 L1749.0 1499.7 L1751.0 1499.8 L1753.0 1499.8 L1755.0 1499.8 L1757.0 1499.9 L1759.0 1499.9 L1761.0 1499.9 L1763.0 1500.0 L1765.0 1500.0 L1767.0 1500.1 L1769.0 1500.1 L1771.0 1500.1 L1773.0 1500.2 L1775.0 1500.2 L1777.0 1500.2 L1779.0 1500.3 L1781.0 1500.3 L1783.0 1500.3 L1785.0 1500.4 L1787.0 1500.4 L1789.0 1500.4 L1791.0 1500.5 L1793.0 1500.5 L1795.0 1500.5 L1797.0 1500.6 L1799.0 1500.6 L1801.0 1500.6 L1803.0 1500.7 L1805.0 1500.7 L1807.0 1500.7 L1809.0 1500.8 L1811.0 1500.8 L1813.0 1500.8 L1815.0 1500.9 L1817.0 1500.9 L1819.0 1500.9 L1821.0 1500.9 L1823.0 1501.0 L1825.0 1501.0 L1827.0 1501.0 L1829.0 1501.1 L1831.0 1501.1 L1833.0 1501.1 L1835.0 1501.2 L1837.0 1501.2 L1839.0 1501.2 L1841.0 1501.2 L1843.0 1501.3 L1845.0 1501.3 L1847.0 1501.3 L1849.0 1501.3 L1851.0 1501.4 L1853.0 1501.4 L1855.0 1501.4 L1857.0 1501.5 L1859.0 1501.5 L1861.0 1501.5 L1863.0 1501.5 L1865.0 1501.6 L1867.0 1501.6 L1869.0 1501.6 L1871.0 1501.6 L1873.0 1501.7 L1875.0 1501.7 L1877.0 1501.7 L1879.0 1501.7 L1881.0 1501.8 L1883.0 1501.8 L1885.0 1501.8 L1887.0 1501.8 L1889.0 1501.9 L1891.0 1501.9 L1893.0 1501.9 L1895.0 1501.9 L1897.0 1502.0 L1899.0 1502.0 L1901.0 1502.0 L1903.0 1502.0 L1905.0 1502.1 L1907.0 1502.1 L1909.0 1502.1 L1911.0 1502.1 L1913.0 1502.1 L1915.0 1502.2 L1917.0 1502.2 L1919.0 1502.2 L1921.0 1502.2 L1923.0 1502.3 L1925.0 1502.3 L1927.0 1502.3 L1929.0 1502.3 L1931.0 1502.3 L1933.0 1502.4 L1935.0 1502.4 L1937.0 1502.4 L1939.0 1502.4 L1941.0 1502.4 L1943.0 1502.5 L1945.0 1502.5 L1947.0 1502.5 L1949.0 1502.5 L1951.0 1502.6 L1953.0 1502.6 L1955.0 1502.6 L1957.0 1502.6 L1959.0 1502.6 L1961.0 1502.7 L1963.0 1502.7 L1965.0 1502.7 L1967.0 1502.7 L1969.0 1502.7 L1971.0 1502.7 L1973.0 1502.8 L1975.0 1502.8 L1977.0 1502.8 L1979.0 1502.8 L1981.0 1502.8 L1983.0 1502.9 L1985.0 1502.9 L1987.0 1502.9 L1989.0 1502.9 L1991.0 1502.9 L1993.0 1503.0 L1995.0 1503.0 L1997.0 1503.0 L1999.0 1503.0 L2001.0 1503.0 L2003.0 1503.0 L2005.0 1503.1 L2007.0 1503.1 L2009.0 1503.1 L2011.0 1503.1 L2013.0 1503.1 L2015.0 1503.1 L2017.0 1503.2 L2019.0 1503.2 L2021.0 1503.2 L2023.0 1503.2 L2025.0 1503.2 L2027.0 1503.2 L2029.0 1503.3 L2031.0 1503.3 L2033.0 1503.3 L2035.0 1503.3 L2037.0 1503.3 L2039.0 1503.3 L2041.0 1503.4 L2043.0 1503.4 L2045.0 1503.4 L2047.0 1503.4 L2049.0 1503.4 L2051.0 1503.4 L2053.0 1503.5 L2055.0 1503.5 L2057.0 1503.5 L2059.0 1503.5 L2061.0 1503.5 L2063.0 1503.5 L2065.0 1503.5 L2067.0 1503.6 L2069.0 1503.6 L2071.0 1503.6 L2073.0 1503.6 L2075.0 1503.6 L2077.0 1503.6 L2079.0 1503.7 L2081.0 1503.7 L2083.0 1503.7 L2085.0 1503.7 L2087.0 1503.7 L2089.0 1503.7 L2091.0 1503.7 L2093.0 1503.8 L2095.0 1503.8 L2097.0 1503.8 L2099.0 1503.8 L2101.0 1503.8 L2103.0 1503.8 L2105.0 1503.8 L2107.0 1503.9 L2109.0 1503.9 L2111.0 1503.9 L2113.0 1503.9 L2115.0 1503.9 L2117.0 1503.9 L2119.0 1503.9 L2121.0 1503.9 L2123.0 1504.0 L2125.0 1504.0 L2127.0 1504.0 L2129.0 1504.0 L2131.0 1504.0 L2133.0 1504.0 L2135.0 1504.0 L2135.5 1504.0"/>
<path stroke="#ff00ff" d="M341.0 1501.8 L343.0 1501.8 L345.0 1501.8 L347.0 1501.8 L349.0 1501.7 L351.0 1501.7 L353.0 1501.7 L355.0 1501.7 L357.0 1501.6 L359.0 1501.6 L361.0 1501.6 L363.0 1501.6 L365.0 1501.5 L367.0 1501.5 L369.0 1501.5 L371.0 1501.5 L373.0 1501.4 L375.0 1501.4 L377.0 1501.4 L379.0 1501.4 L381.0 1501.3 L383.0 1501.3 L385.0 1501.3 L387.0 1501.2 L389.0 1501.2 L391.0 1501.2 L393.0 1501.2 L395.0 1501.1 L397.0 1501.1 L399.0 1501.1 L401.0 1501.0 L403.0 1501.0 L405.0 1501.0 L407.0 1501.0 L409.0 1500.9 L411.0 1500.9 L413.0 1500.9 L415.0 1500.8 L417.0 1500.8 L419.0 1500.8 L421.0 1500.8 L423.0 1500.7 L425.0 1500.7 L427.0 1500.7 L429.0 1500.6 L431.0 1500.6 L433.0 1500.6 L435.0 1500.5 L437.0 1500.5 L439.0 1500.5 L441.0 1500.5 L443.0 1500.4 L445.0 1500.4 L447.0 1500.4 L449.0 1500.3 L451.0 1500.3 L453.0 1500.3 L455.0 1500.2 L457.0 1500.2 L459.0 1500.2 L461.0 1500.1 L463.0 1500.1 L465.0 1500.1 L467.0 1500.0 L469.0 1500.0 L471.0 1500.0 L473.0 1499.9 L475.0 1499.9 L477.0 1499.9 L479.0 1499.8 L481.0 1499.8 L483.0 1499.8 L485.0 1499.7 L487.0 1499.7 L489.0 1499.7 L491.0 1499.6 L493.0 1499.6 L495.0 1499.6 L497.0 1499.5 L499.0 1499.5 L501.0 1499.4 L503.0 1499.4 L505.0 1499.4 L507.0 1499.3 L509.0 1499.3 L511.0 1499.3 L513.0 1499.2 L515.0 1499.2 L517.0 1499.2 L519.0 1499.1 L521.0 1499.1 L523.0 1499.0 L525.0 1499.0 L527.0 1499.0 L529.0 1498.9 L531.0 1498.9 L533.0 1498.8 L535.0 1498.8 L537.0 1498.8 L539.0 1498.7 L541.0 1498.7 L543.0 1498.6 L545.0 1498.6 L547.0 1498.6 L549.0 1498.5 L551.0 1498.5 L553.0 1498.4 L555.0 1498.4 L557.0 1498.4 L559.0 1498.3 L561.0 1498.3 L563.0 1498.2 L565.0 1498.2 L567.0 1498.1 L569.0 1498.1 L571.0 1498.1 L573.0 1498.0 L575.0 1498.0 L577.0 1497.9 L579.0 1497.9 L581.0 1497.8 L583.0 1497.8 L585.0 1497.8 L587.0 1497.7 L589.0 1497.7 L591.0 1497.6 L593.0 1497.6 L595.0 1497.5 L597.0 1497.5 L599.0 1497.4 L601.0 1497.4 L603.0 1497.3 L605.0 1497.3 L607.0 1497.2 L609.0 1497.2 L611.0 1497.1 L613.0 1497.1 L615.0 1497.0 L617.0 1497.0 L619.0 1496.9 L621.0 1496.9 L623.0 1496.8 L625.0 1496.8 L627.0 1496.7 L629.0 1496.7 L631.0 1496.6 L633.0 1496.6 L635.0 1496.5 L637.0 1496.5 L639.0 1496.4 L641.0 1496.4 L643.0 1496.3 L645.0 1496.3 L647.0 1496.2 L649.0 1496.2 L651.0 1496.1 L653.0 1496.0 L655.0 1496.0 L657.0 1495.9 L659.0 1495.9 L661.0 1495.8 L663.0 1495.8 L665.0 1495.7 L667.0 1495.6 L669.0 1495.6 L671.0 1495.5 L673.0 1495.5 L675.0 1495.4 L677.0 1495.3 L679.0 1495.3 L681.0 1495.2 L683.0 1495.2 L685.0 1495.1 L687.0 1495.0 L689.0 1495.0 L691.0 1494.9 L693.0 1494.9 L695.0 1494.8 L697.0 1494.7 L699.0 1494.7 L701.0 1494.6 L703.0 1494.5 L705.0 1494.5 L707.0 1494.4 L709.0 1494.3 L711.0 1494.3 L713.0 1494.2 L715.0 1494.1 L717.0 1494.1 L719.0 1494.0 L721.0 1493.9 L723.0 1493.8 L725.0 1493.8 L727.0 1493.7 L729.0 1493.6 L731.0 1493.6 L733.0 1493.5 L735.0 1493.4 L737.0 1493.3 L739.0 1493.3 L741.0 1493.2 L743.0 1493.1 L745.0 1493.0 L747.0 1493.0 L749.0 1492.9 L751.0 1492.8 L753.0 1492.7 L755.0 1492.6 L757.0 1492.6 L759.0 1492.5 L761.0 1492.4 L763.0 1492.3 L765.0 1492.2 L767.0 1492.2 L769.0 1492.1 L771.0 1492.0 L773.0 1491.9 L775.0 1491.8 L777.0 1491.7 L779.0 1491.6 L781.0 1491.6 L783.0 1491.5 L785.0 1491.4 L787.0 1491.3 L789.0 1491.2 L791.0 1491.1 L793.0 1491.0 L795.0 1490.9 L797.0 1490.8 L799.0 1490.7 L801.0 1490.6 L803.0 1490.5 L805.0 1490.4 L807.0 1490.3 L809.0 1490.2 L811.0 1490.1 L813.0 1490.0 L815.0 1489.9 L817.0 1489.8 L819.0 1489.7 L821.0 1489.6 L823.0 1489.5 L825.0 1489.4 L827.0 1489.3 L829.0 1489.2 L831.0 1489.1 L833.0 1489.0 L835.0 1488.9 L837.0 1488.8 L839.0 1488.7 L841.0 1488.5 L843.0 1488.4 L845.0 1488.3 L847.0 1488.2 L849.0 1488.1 L851.0 1488.0 L853.0 1487.8 L855.0 1487.7 L857.0 1487.6 L859.0 1487.5 L861.0 1487.3 L863.0 1487.2 L865.0 1487.1 L867.0 1487.0 L869.0 1486.8 L871.0 1486.7 L873.0 1486.6 L875.0 1486.4 L877.0 1486.3 L879.0 1486.2 L881.0 1486.0 L883.0 1485.9 L885.0 1485.7 L887.0 1485.6 L889.0 1485.5 L891.0 1485.3 L893.0 1485.2 L895.0 1485.0 L897.0 1484.9 L899.0 1484.7 L901.0 1484.6 L903.0 1484.4 L905.0 1484.3 L907.0 1484.1 L909.0 1483.9 L911.0 1483.8 L913.0 1483.6 L915.0 1483.4 L917.0 1483.3 L919.0 1483.1 L921.0 1482.9 L923.0 1482.8 L925.0 1482.6 L927.0 1482.4 L929.0 1482.2 L931.0 1482.1 L933.0 1481.9 L935.0 1481.7 L937.0 1481.5 L939.0 1481.3 L941.0 1481.1 L943.0 1480.9 L945.0 1480.8 L947.0 1480.6 L949.0 1480.4 L951.0 1480.2 L953.0 1479.9 L955.0 1479.7 L957.0 1479.5 L959.0 1479.3 L961.0 1479.1 L963.0 1478.9 L965.0 1478.7 L967.0 1478.5 L969.0 1478.2 L971.0 1478.0 L973.0 1477.8 L975.0 1477.5 L977.0 1477.3 L979.0 1477.1 L981.0 1476.8 L983.0 1476.6 L985.0 1476.3 L987.0 1476.1 L989.0 1475.8 L991.0 1475.6 L993.0 1475.3 L995.0 1475.0 L997.0 1474.8 L999.0 1474.5 L1001.0 1474.2 L1003.0 1473.9 L1005.0 1473.6 L1007.0 1473.4 L1009.0 1473.1 L1011.0 1472.8 L1013.0 1472.5 L1015.0 1472.2 L1017.0 1471.8 L1019.0 1471.5 L1021.0 1471.2 L1023.0 1470.9 L1025.0 1470.6 L1027.0 1470.2 L1029.0 1469.9 L1031.0 1469.6 L1033.0 1469.2 L1035.0 1468.9 L1037.0 1468.5 L1039.0 1468.1 L1041.0 1467.8 L1043.0 1467.4 L1045.0 1467.0 L1047.0 1466.6 L1049.0 1466.2 L1051.0 1465.8 L1053.0 1465.4 L1055.0 1465.0 L1057.0 1464.6 L1059.0 1464.2 L1061.0 1463.7 L1063.0 1463.3 L1065.0 1462.9 L1067.0 1462.4 L1069.0 1462.0 L1071.0 1461.5 L1073.0 1461.0 L1075.0 1460.5 L1077.0 1460.0 L1079.0 1459.5 L1081.0 1459.0 L1083.0 1458.5 L1085.0 1458.0 L1087.0 1457.5 L1089.0 1456.9 L1091.0 1456.4 L1093.0 1455.8 L1095.0 1455.2 L1097.0 1454.7 L1099.0 1454.1 L1101.0 1453.5 L1103.0 1452.9 L1105.0 1452.2 L1107.0 1451.6 L1109.0 1451.0 L1111.0 1450.3 L1113.0 1449.7 L1115.0 1449.0 L1117.0 1448.3 L1119.0 1447.6 L1121.0 1446.9 L1123.0 1446.2 L1125.0 1445.4 L1127.0 1444.7 L1129.0 1443.9 L1131.0 1443.1 L1133.0 1442.3 L1135.0 1441.5 L1137.0 1440.7 L1139.0 1439.9 L1141.0 1439.1 L1143.0 1438.2 L1145.0 1437.3 L1147.0 1436.4 L1149.0 1435.5 L1151.0 1434.6 L1153.0 1433.7 L1155.0 1432.8 L1157.0 1431.8 L1159.0 1430.9 L1161.0 1429.9 L1163.0 1428.9 L1165.0 1427.9 L1167.0 1426.9 L1169.0 1425.8 L1171.0 1424.8 L1173.0 1423.7 L1175.0 1422.7 L1177.0 1421.6 L1179.0 1420.5 L1181.0 1419.4 L1183.0 1418.3 L1185.0 1417.2 L1187.0 1416.1 L1189.0 1415.0 L1191.0 1413.9 L1193.0 1412.8 L1195.0 1411.7 L1197.0 1410.6 L1199.0 1409.5 L1201.0 1408.4 L1203.0 1407.4 L1205.0 1406.3 L1207.0 1405.3 L1209.0 1404.2 L1211.0 1403.2 L1213.0 1402.2 L1215.0 1401.3 L1217.0 1400.3 L1219.0 1399.4 L1221.0 1398.6 L1223.0 1397.7 L1225.0 1397.0 L1227.0 1396.2 L1229.0 1395.5 L1231.0 1394.9 L1233.0 1394.3 L1235.0 1393.8 L1237.0 1393.3 L1239.0 1392.9 L1241.0 1392.5 L1243.0 1392.2 L1245.0 1392.0 L1247.0 1391.8 L1249.0 1391.7 L1251.0 1391.7 L1253.0 1391.7 L1255.0 1391.8 L1257.0 1392.0 L1259.0 1392.2 L1261.0 1392.5 L1263.0 1392.9 L1265.0 1393.3 L1267.0 1393.8 L1269.0 1394.3 L1271.0 1394.9 L1273.0 1395.5 L1275.0 1396.2 L1277.0 1396.9 L1279.0 1397.7 L1281.0 1398.5 L1283.0 1399.3 L1285.0 1400.2 L1287.0 1401.1 L1289.0 1402.0 L1291.0 1403.0 L1293.0 1404.0 L1295.0 1405.0 L1297.0 1406.0 L1299.0 1407.0 L1301.0 1408.0 L1303.0 1409.1 L1305.0 1410.1 L1307.0 1411.2 L1309.0 1412.2 L1311.0 1413.3 L1313.0 1414.3 L1315.0 1415.4 L1317.0 1416.4 L1319.0 1417.5 L1321.0 1418.5 L1323.0 1419.5 L1325.0 1420.6 L1327.0 1421.6 L1329.0 1422.6 L1331.0 1423.6 L1333.0 1424.6 L1335.0 1425.6 L1337.0 1426.5 L1339.0 1427.5 L1341.0 1428.4 L1343.0 1429.4 L1345.0 1430.3 L1347.0 1431.2 L1349.0 1432.1 L1351.0 1433.0 L1353.0 1433.8 L1355.0 1434.7 L1357.0 1435.5 L1359.0 1436.3 L1361.0 1437.2 L1363.0 1438.0 L1365.0 1438.7 L1367.0 1439.5 L1369.0 1440.3 L1371.0 1441.0 L1373.0 1441.8 L1375.0 1442.5 L1377.0 1443.2 L1379.0 1443.9 L1381.0 1444.6 L1383.0 1445.3 L1385.0 1446.0 L1387.0 1446.6 L1389.0 1447.3 L1391.0 1447.9 L1393.0 1448.5 L1395.0 1449.1 L1397.0 1449.7 L1399.0 1450.3 L1401.0 1450.9 L1403.0 1451.5 L1405.0 1452.1 L1407.0 1452.6 L1409.0 1453.2 L1411.0 1453.7 L1413.0 1454.2 L1415.0 1454.7 L1417.0 1455.2 L1419.0 1455.7 L1421.0 1456.2 L1423.0 1456.7 L1425.0 1457.2 L1427.0 1457.7 L1429.0 1458.1 L1431.0 1458.6 L1433.0 1459.0 L1435.0 1459.5 L1437.0 1459.9 L1439.0 1460.3 L1441.0 1460.8 L1443.0 1461.2 L1445.0 1461.6 L1447.0 1462.0 L1449.0 1462.4 L1451.0 1462.8 L1453.0 1463.2 L1455.0 1463.5 L1457.0 1463.9 L1459.0 1464.3 L1461.0 1464.6 L1463.0 1465.0 L1465.0 1465.3 L1467.0 1465.7 L1469.0 1466.0 L1471.0 1466.4 L1473.0 1466.7 L1475.0 1467.0 L1477.0 1467.3 L1479.0 1467.7 L1481.0 1468.0 L1483.0 1468.3 L1485.0 1468.6 L1487.0 1468.9 L1489.0 1469.2 L1491.0 1469.5 L1493.0 1469.8 L1495.0 1470.0 L1497.0 1470.3 L1499.0 1470.6 L1501.0 1470.9 L1503.0 1471.1 L1505.0 1471.4 L1507.0 1471.7 L1509.0 1471.9 L1511.0 1472.2 L1513.0 1472.4 L1515.0 1472.7 L1517.0 1472.9 L1519.0 1473.2 L1521.0 1473.4 L1523.0 1473.6 L1525.0 1473.9 L1527.0 1474.1 L1529.0 1474.3 L1531.0 1474.5 L1533.0 1474.8 L1535.0 1475.0 L1537.0 1475.2 L1539.0 1475.4 L1541.0 1475.6 L1543.0 1475.8 L1545.0 1476.0 L1547.0 1476.2 L1549.0 1476.4 L1551.0 1476.6 L1553.0 1476.8 L1555.0 1477.0 L1557.0 1477.2 L1559.0 1477.4 L1561.0 1477.6 L1563.0 1477.8 L1565.0 1478.0 L1567.0 1478.1 L1569.0 1478.3 L1571.0 1478.5 L1573.0 1478.7 L1575.0 1478.8 L1577.0 1479.0 L1579.0 1479.2 L1581.0 1479.4 L1583.0 1479.5 L1585.0 1479.7 L1587.0 1479.8 L1589.0 1480.0 L1591.0 1480.2 L1593.0 1480.3 L1595.0 1480.5 L1597.0 1480.6 L1599.0 1480.8 L1601.0 1480.9 L1603.0 1481.1 L1605.0 1481.2 L1607.0 1481.4 L1609.0 1481.5 L1611.0 1481.7 L1613.0 1481.8 L1615.0 1481.9 L1617.0 1482.1 L1619.0 1482.2 L1621.0 1482.4 L1623.0 1482.5 L1625.0 1482.6 L1627.0 1482.8 L1629.0 1482.9 L1631.0 1483.0 L1633.0 1483.1 L1635.0 1483.3 L1637.0 1483.4 L1639.0 1483.5 L1641.0 1483.6 L1643.0 1483.8 L1645.0 1483.9 L1647.0 1484.0 L1649.0 1484.1 L1651.0 1484.2 L1653.0 1484.4 L1655.0 1484.5 L1657.0 1484.6 L1659.0 1484.7 L1661.0 1484.8 L1663.0 1484.9 L1665.0 1485.0 L1667.0 1485.1 L1669.0 1485.3 L1671.0 1485.4 L1673.0 1485.5 L1675.0 1485.6 L1677.0 1485.7 L1679.0 1485.8 L1681.0 1485.9 L1683.0 1486.0 L1685.0 1486.1 L1687.0 1486.2 L1689.0 1486.3 L1691.0 1486.4 L1693.0 1486.5 L1695.0 1486.6 L1697.0 1486.7 L1699.0 1486.8 L1701.0 1486.9 L1703.0 1487.0 L1705.0 1487.1 L1707.0 1487.1 L1709.0 1487.2 L1711.0 1487.3 L1713.0 1487.4 L1715.0 1487.5 L1717.0 1487.6 L1719.0 1487.7 L1721.0 1487.8 L1723.0 1487.9 L1725.0 1487.9 L1727.0 1488.0 L1729.0 1488.1 L1731.0 1488.2 L1733.0 1488.3 L1735.0 1488.4 L1737.0 1488.4 L1739.0 1488.5 L1741.0 1488.6 L1743.0 1488.7 L1745.0 1488.8 L1747.0 1488.8 L1749.0 1488.9 L1751.0 1489.0 L1753.0 1489.1 L1755.0 1489.1 L1757.0 1489.2 L1759.0 1489.3 L1761.0 1489.4 L1763.0 1489.4 L1765.0 1489.5 L1767.0 1489.6 L1769.0 1489.7 L1771.0 1489.7 L1773.0 1489.8 L1775.0 1489.9 L1777.0 1489.9 L1779.0 1490.0 L1781.0 1490.1 L1783.0 1490.2 L1785.0 1490.2 L1787.0 1490.3 L1789.0 1490.4 L1791.0 1490.4 L1793.0 1490.5 L1795.0 1490.6 L1797.0 1490.6 L1799.0 1490.7 L1801.0 1490.8 L1803.0 1490.8 L1805.0 1490.9 L1807.0 1490.9 L1809.0 1491.0 L1811.0 1491.1 L1813.0 1491.1 L1815.0 1491.2 L1817.0 1491.3 L1819.0 1491.3 L1821.0 1491.4 L1823.0 1491.4 L1825.0 1491.5 L1827.0 1491.6 L1829.0 1491.6 L1831.0 1491.7 L1833.0 1491.7 L1835.0 1491.8 L1837.0 1491.8 L1839.0 1491.9 L1841.0 1492.0 L1843.0 1492.0 L1845.0 1492.1 L1847.0 1492.1 L1849.0 1492.2 L1851.0 1492.2 L1853.0 1492.3 L1855.0 1492.3 L1857.0 1492.4 L1859.0 1492.4 L1861.0 1492.5 L1863.0 1492.5 L1865.0 1492.6 L1867.0 1492.7 L1869.0 1492.7 L1871.0 1492.8 L1873.0 1492.8 L1875.0 1492.9 L1877.0 1492.9 L1879.0 1493.0 L1881.0 1493.0 L1883.0 1493.1 L1885.0 1493.1 L1887.0 1493.2 L1889.0 1493.2 L1891.0 1493.3 L1893.0 1493.3 L1895.0 1493.3 L1897.0 1493.4 L1899.0 1493.4 L1901.0 1493.5 L1903.0 1493.5 L1905.0 1493.6 L1907.0 1493.6 L1909.0 1493.7 L1911.0 1493.7 L1913.0 1493.8 L1915.0 1493.8 L1917.0 1493.9 L1919.0 1493.9 L1921.0 1493.9 L1923.0 1494.0 L1925.0 1494.0 L1927.0 1494.1 L1929.0 1494.1 L1931.0 1494.2 L1933.0 1494.2 L1935.0 1494.2 L1937.0 1494.3 L1939.0 1494.3 L1941.0 1494.4 L1943.0 1494.4 L1945.0 1494.5 L1947.0 1494.5 L1949.0 1494.5 L1951.0 1494.6 L1953.0 1494.6 L1955.0 1494.7 L1957.0 1494.7 L1959.0 1494.7 L1961.0 1494.8 L1963.0 1494.8 L1965.0 1494.9 L1967.0 1494.9 L1969.0 1494.9 L1971.0 1495.0 L1973.0 1495.0 L1975.0 1495.0 L1977.0 1495.1 L1979.0 1495.1 L1981.0 1495.2 L1983.0 1495.2 L1985.0 1495.2 L1987.0 1495.3 L1989.0 1495.3 L1991.0 1495.3 L1993.0 1495.4 L1995.0 1495.4 L1997.0 1495.4 L1999.0 1495.5 L2001.0 1495.5 L2003.0 1495.6 L2005.0 1495.6 L2007.0 1495.6 L2009.0 1495.7 L2011.0 1495.7 L2013.0 1495.7 L2015.0 1495.8 L2017.0 1495.8 L2019.0 1495.8 L2021.0 1495.9 L2023.0 1495.9 L2025.0 1495.9 L2027.0 1496.0 L2029.0 1496.0 L2031.0 1496.0 L2033.0 1496.1 L2035.0 1496.1 L2037.0 1496.1 L2039.0 1496.2 L2041.0 1496.2 L2043.0 1496.2 L2045.0 1496.3 L2047.0 1496.3 L2049.0 1496.3 L2051.0 1496.4 L2053.0 1496.4 L2055.0 1496.4 L2057.0 1496.4 L2059.0 1496.5 L2061.0 1496.5 L2063.0 1496.5 L2065.0 1496.6 L2067.0 1496.6 L2069.0 1496.6 L2071.0 1496.7 L2073.0 1496.7 L2075.0 1496.7 L2077.0 1496.7 L2079.0 1496.8 L2081.0 1496.8 L2083.0 1496.8 L2085.0 1496.9 L2087.0 1496.9 L2089.0 1496.9 L2091.0 1496.9 L2093.0 1497.0 L2095.0 1497.0 L2097.0 1497.0 L2099.0 1497.1 L2101.0 1497.1 L2103.0 1497.1 L2105.0 1497.1 L2107.0 1497.2 L2109.0 1497.2 L2111.0 1497.2 L2113.0 1497.3 L2115.0 1497.3 L2117.0 1497.3 L2119.0 1497.3 L2121.0 1497.4 L2123.0 1497.4 L2125.0 1497.4 L2127.0 1497.4 L2129.0 1497.5 L2131.0 1497.5 L2133.0 1497.5 L2135.0 1497.5 L2135.5 1497.5"/>
<path stroke="#008000" d="M341.0 1468.4 L343.0 1468.3 L345.0 1468.2 L347.0 1468.1 L349.0 1468.0 L351.0 1467.8 L353.0 1467.7 L355.0 1467.6 L357.0 1467.5 L359.0 1467.4 L361.0 1467.2 L363.0 1467.1 L365.0 1467.0 L367.0 1466.9 L369.0 1466.8 L371.0 1466.6 L373.0 1466.5 L375.0 1466.4 L377.0 1466.3 L379.0 1466.1 L381.0 1466.0 L383.0 1465.9 L385.0 1465.8 L387.0 1465.6 L389.0 1465.5 L391.0 1465.4 L393.0 1465.2 L395.0 1465.1 L397.0 1465.0 L399.0 1464.8 L401.0 1464.7 L403.0 1464.6 L405.0 1464.4 L407.0 1464.3 L409.0 1464.2 L411.0 1464.0 L413.0 1463.9 L415.0 1463.8 L417.0 1463.6 L419.0 1463.5 L421.0 1463.4 L423.0 1463.2 L425.0 1463.1 L427.0 1462.9 L429.0 1462.8 L431.0 1462.7 L433.0 1462.5 L435.0 1462.4 L437.0 1462.2 L439.0 1462.1 L441.0 1461.9 L443.0 1461.8 L445.0 1461.7 L447.0 1461.5 L449.0 1461.4 L451.0 1461.2 L453.0 1461.1 L455.0 1460.9 L457.0 1460.8 L459.0 1460.6 L461.0 1460.5 L463.0 1460.3 L465.0 1460.2 L467.0 1460.0 L469.0 1459.8 L471.0 1459.7 L473.0 1459.5 L475.0 1459.4 L477.0 1459.2 L479.0 1459.1 L481.0 1458.9 L483.0 1458.7 L485.0 1458.6 L487.0 1458.4 L489.0 1458.3 L491.0 1458.1 L493.0 1457.9 L495.0 1457.8 L497.0 1457.6 L499.0 1457.4 L501.0 1457.3 L503.0 1457.1 L505.0 1456.9 L507.0 1456.8 L509.0 1456.6 L511.0 1456.4 L513.0 1456.2 L515.0 1456.1 L517.0 1455.9 L519.0 1455.7 L521.0 1455.5 L523.0 1455.4 L525.0 1455.2 L527.0 1455.0 L529.0 1454.8 L531.0 1454.6 L533.0 1454.5 L535.0 1454.3 L537.0 1454.1 L539.0 1453.9 L541.0 1453.7 L543.0 1453.5 L545.0 1453.3 L547.0 1453.2 L549.0 1453.0 L551.0 1452.8 L553.0 1452.6 L555.0 1452.4 L557.0 1452.2 L559.0 1452.0 L561.0 1451.8 L563.0 1451.6 L565.0 1451.4 L567.0 1451.2 L569.0 1451.0 L571.0 1450.8 L573.0 1450.6 L575.0 1450.4 L577.0 1450.2 L579.0 1450.0 L581.0 1449.8 L583.0 1449.6 L585.0 1449.4 L587.0 1449.2 L589.0 1448.9 L591.0 1448.7 L593.0 1448.5 L595.0 1448.3 L597.0 1448.1 L599.0 1447.9 L601.0 1447.6 L603.0 1447.4 L605.0 1447.2 L607.0 1447.0 L609.0 1446.7 L611.0 1446.5 L613.0 1446.3 L615.0 1446.1 L617.0 1445.8 L619.0 1445.6 L621.0 1445.4 L623.0 1445.1 L625.0 1444.9 L627.0 1444.7 L629.0 1444.4 L631.0 1444.2 L633.0 1443.9 L635.0 1443.7 L637.0 1443.4 L639.0 1443.2 L641.0 1443.0 L643.0 1442.7 L645.0 1442.5 L647.0 1442.2 L649.0 1441.9 L651.0 1441.7 L653.0 1441.4 L655.0 1441.2 L657.0 1440.9 L659.0 1440.6 L661.0 1440.4 L663.0 1440.1 L665.0 1439.9 L667.0 1439.6 L669.0 1439.3 L671.0 1439.0 L673.0 1438.8 L675.0 1438.5 L677.0 1438.2 L679.0 1437.9 L681.0 1437.6 L683.0 1437.4 L685.0 1437.1 L687.0 1436.8 L689.0 1436.5 L691.0 1436.2 L693.0 1435.9 L695.0 1435.6 L697.0 1435.3 L699.0 1435.0 L701.0 1434.7 L703.0 1434.4 L705.0 1434.1 L707.0 1433.8 L709.0 1433.5 L711.0 1433.2 L713.0 1432.9 L715.0 1432.5 L717.0 1432.2 L719.0 1431.9 L721.0 1431.6 L723.0 1431.2 L725.0 1430.9 L727.0 1430.6 L729.0 1430.2 L731.0 1429.9 L733.0 1429.6 L735.0 1429.2 L737.0 1428.9 L739.0 1428.5 L741.0 1428.2 L743.0 1427.8 L745.0 1427.5 L747.0 1427.1 L749.0 1426.8 L751.0 1426.4 L753.0 1426.0 L755.0 1425.7 L757.0 1425.3 L759.0 1424.9 L761.0 1424.6 L763.0 1424.2 L765.0 1423.8 L767.0 1423.4 L769.0 1423.0 L771.0 1422.6 L773.0 1422.2 L775.0 1421.8 L777.0 1421.4 L779.0 1421.0 L781.0 1420.6 L783.0 1420.2 L785.0 1419.8 L787.0 1419.4 L789.0 1419.0 L791.0 1418.5 L793.0 1418.1 L795.0 1417.7 L797.0 1417.2 L799.0 1416.8 L801.0 1416.4 L803.0 1415.9 L805.0 1415.5 L807.0 1415.0 L809.0 1414.6 L811.0 1414.1 L813.0 1413.6 L815.0 1413.2 L817.0 1412.7 L819.0 1412.2 L821.0 1411.7 L823.0 1411.3 L825.0 1410.8 L827.0 1410.3 L829.0 1409.8 L831.0 1409.3 L833.0 1408.8 L835.0 1408.2 L837.0 1407.7 L839.0 1407.2 L841.0 1406.7 L843.0 1406.2 L845.0 1405.6 L847.0 1405.1 L849.0 1404.5 L851.0 1404.0 L853.0 1403.4 L855.0 1402.9 L857.0 1402.3 L859.0 1401.7 L861.0 1401.1 L863.0 1400.6 L865.0 1400.0 L867.0 1399.4 L869.0 1398.8 L871.0 1398.2 L873.0 1397.6 L875.0 1396.9 L877.0 1396.3 L879.0 1395.7 L881.0 1395.1 L883.0 1394.4 L885.0 1393.8 L887.0 1393.1 L889.0 1392.4 L891.0 1391.8 L893.0 1391.1 L895.0 1390.4 L897.0 1389.7 L899.0 1389.0 L901.0 1388.3 L903.0 1387.6 L905.0 1386.9 L907.0 1386.2 L909.0 1385.4 L911.0 1384.7 L913.0 1383.9 L915.0 1383.2 L917.0 1382.4 L919.0 1381.6 L921.0 1380.9 L923.0 1380.1 L925.0 1379.3 L927.0 1378.5 L929.0 1377.6 L931.0 1376.8 L933.0 1376.0 L935.0 1375.1 L937.0 1374.3 L939.0 1373.4 L941.0 1372.5 L943.0 1371.6 L945.0 1370.7 L947.0 1369.8 L949.0 1368.9 L951.0 1368.0 L953.0 1367.0 L955.0 1366.1 L957.0 1365.1 L959.0 1364.1 L961.0 1363.2 L963.0 1362.2 L965.0 1361.1 L967.0 1360.1 L969.0 1359.1 L971.0 1358.0 L973.0 1357.0 L975.0 1355.9 L977.0 1354.8 L979.0 1353.7 L981.0 1352.6 L983.0 1351.4 L985.0 1350.3 L987.0 1349.1 L989.0 1348.0 L991.0 1346.8 L993.0 1345.6 L995.0 1344.3 L997.0 1343.1 L999.0 1341.8 L1001.0 1340.6 L1003.0 1339.3 L1005.0 1337.9 L1007.0 1336.6 L1009.0 1335.3 L1011.0 1333.9 L1013.0 1332.5 L1015.0 1331.1 L1017.0 1329.7 L1019.0 1328.2 L1021.0 1326.8 L1023.0 1325.3 L1025.0 1323.8 L1027.0 1322.2 L1029.0 1320.7 L1031.0 1319.1 L1033.0 1317.5 L1035.0 1315.9 L1037.0 1314.2 L1039.0 1312.6 L1041.0 1310.9 L1043.0 1309.2 L1045.0 1307.4 L1047.0 1305.6 L1049.0 1303.8 L1051.0 1302.0 L1053.0 1300.1 L1055.0 1298.2 L1057.0 1296.3 L1059.0 1294.4 L1061.0 1292.4 L1063.0 1290.4 L1065.0 1288.3 L1067.0 1286.2 L1069.0 1284.1 L1071.0 1282.0 L1073.0 1279.8 L1075.0 1277.6 L1077.0 1275.3 L1079.0 1273.0 L1081.0 1270.7 L1083.0 1268.3 L1085.0 1265.9 L1087.0 1263.5 L1089.0 1261.0 L1091.0 1258.5 L1093.0 1255.9 L1095.0 1253.3 L1097.0 1250.6 L1099.0 1247.9 L1101.0 1245.1 L1103.0 1242.3 L1105.0 1239.5 L1107.0 1236.6 L1109.0 1233.6 L1111.0 1230.6 L1113.0 1227.6 L1115.0 1224.4 L1117.0 1221.3 L1119.0 1218.1 L1121.0 1214.8 L1123.0 1211.5 L1125.0 1208.1 L1127.0 1204.6 L1129.0 1201.1 L1131.0 1197.6 L1133.0 1194.0 L1135.0 1190.3 L1137.0 1186.5 L1139.0 1182.7 L1141.0 1178.9 L1143.0 1174.9 L1145.0 1170.9 L1147.0 1166.9 L1149.0 1162.8 L1151.0 1158.6 L1153.0 1154.3 L1155.0 1150.0 L1157.0 1145.7 L1159.0 1141.2 L1161.0 1136.8 L1163.0 1132.2 L1165.0 1127.6 L1167.0 1123.0 L1169.0 1118.2 L1171.0 1113.5 L1173.0 1108.7 L1175.0 1103.8 L1177.0 1098.9 L1179.0 1094.0 L1181.0 1089.0 L1183.0 1084.0 L1185.0 1079.0 L1187.0 1073.9 L1189.0 1068.9 L1191.0 1063.8 L1193.0 1058.8 L1195.0 1053.7 L1197.0 1048.7 L1199.0 1043.7 L1201.0 1038.8 L1203.0 1033.9 L1205.0 1029.0 L1207.0 1024.3 L1209.0 1019.6 L1211.0 1015.0 L1213.0 1010.5 L1215.0 1006.1 L1217.0 1001.9 L1219.0 997.8 L1221.0 993.9 L1223.0 990.2 L1225.0 986.6 L1227.0 983.3 L1229.0 980.2 L1231.0 977.3 L1233.0 974.6 L1235.0 972.2 L1237.0 970.1 L1239.0 968.3 L1241.0 966.7 L1243.0 965.4 L1245.0 964.4 L1247.0 963.7 L1249.0 963.3 L1251.0 963.3 L1253.0 963.5 L1255.0 964.0 L1257.0 964.8 L1259.0 966.0 L1261.0 967.4 L1263.0 969.1 L1265.0 971.0 L1267.0 973.2 L1269.0 975.7 L1271.0 978.4 L1273.0 981.4 L1275.0 984.6 L1277.0 987.9 L1279.0 991.5 L1281.0 995.2 L1283.0 999.1 L1285.0 1003.2 L1287.0 1007.4 L1289.0 1011.7 L1291.0 1016.1 L1293.0 1020.6 L1295.0 1025.2 L1297.0 1029.8 L1299.0 1034.6 L1301.0 1039.3 L1303.0 1044.2 L1305.0 1049.0 L1307.0 1053.9 L1309.0 1058.7 L1311.0 1063.6 L1313.0 1068.5 L1315.0 1073.4 L1317.0 1078.2 L1319.0 1083.1 L1321.0 1087.9 L1323.0 1092.7 L1325.0 1097.4 L1327.0 1102.1 L1329.0 1106.8 L1331.0 1111.4 L1333.0 1116.0 L1335.0 1120.5 L1337.0 1124.9 L1339.0 1129.4 L1341.0 1133.7 L1343.0 1138.0 L1345.0 1142.3 L1347.0 1146.4 L1349.0 1150.6 L1351.0 1154.6 L1353.0 1158.6 L1355.0 1162.6 L1357.0 1166.5 L1359.0 1170.3 L1361.0 1174.0 L1363.0 1177.8 L1365.0 1181.4 L1367.0 1185.0 L1369.0 1188.5 L1371.0 1192.0 L1373.0 1195.4 L1375.0 1198.8 L1377.0 1202.1 L1379.0 1205.3 L1381.0 1208.5 L1383.0 1211.6 L1385.0 1214.7 L1387.0 1217.8 L1389.0 1220.7 L1391.0 1223.7 L1393.0 1226.6 L1395.0 1229.4 L1397.0 1232.2 L1399.0 1234.9 L1401.0 1237.6 L1403.0 1240.3 L1405.0 1242.9 L1407.0 1245.4 L1409.0 1248.0 L1411.0 1250.4 L1413.0 1252.9 L1415.0 1255.3 L1417.0 1257.6 L1419.0 1260.0 L1421.0 1262.2 L1423.0 1264.5 L1425.0 1266.7 L1427.0 1268.9 L1429.0 1271.0 L1431.0 1273.1 L1433.0 1275.2 L1435.0 1277.2 L1437.0 1279.2 L1439.0 1281.2 L1441.0 1283.1 L1443.0 1285.1 L1445.0 1286.9 L1447.0 1288.8 L1449.0 1290.6 L1451.0 1292.4 L1453.0 1294.2 L1455.0 1295.9 L1457.0 1297.7 L1459.0 1299.4 L1461.0 1301.0 L1463.0 1302.7 L1465.0 1304.3 L1467.0 1305.9 L1469.0 1307.5 L1471.0 1309.0 L1473.0 1310.5 L1475.0 1312.0 L1477.0 1313.5 L1479.0 1315.0 L1481.0 1316.4 L1483.0 1317.8 L1485.0 1319.3 L1487.0 1320.6 L1489.0 1322.0 L1491.0 1323.3 L1493.0 1324.7 L1495.0 1326.0 L1497.0 1327.3 L1499.0 1328.5 L1501.0 1329.8 L1503.0 1331.0 L1505.0 1332.3 L1507.0 1333.5 L1509.0 1334.7 L1511.0 1335.8 L1513.0 1337.0 L1515.0 1338.1 L1517.0 1339.3 L1519.0 1340.4 L1521.0 1341.5 L1523.0 1342.6 L1525.0 1343.7 L1527.0 1344.7 L1529.0 1345.8 L1531.0 1346.8 L1533.0 1347.8 L1535.0 1348.8 L1537.0 1349.8 L1539.0 1350.8 L1541.0 1351.8 L1543.0 1352.8 L1545.0 1353.7 L1547.0 1354.6 L1549.0 1355.6 L1551.0 1356.5 L1553.0 1357.4 L1555.0 1358.3 L1557.0 1359.2 L1559.0 1360.1 L1561.0 1360.9 L1563.0 1361.8 L1565.0 1362.6 L1567.0 1363.5 L1569.0 1364.3 L1571.0 1365.1 L1573.0 1365.9 L1575.0 1366.7 L1577.0 1367.5 L1579.0 1368.3 L1581.0 1369.1 L1583.0 1369.8 L1585.0 1370.6 L1587.0 1371.3 L1589.0 1372.1 L1591.0 1372.8 L1593.0 1373.5 L1595.0 1374.2 L1597.0 1375.0 L1599.0 1375.7 L1601.0 1376.4 L1603.0 1377.0 L1605.0 1377.7 L1607.0 1378.4 L1609.0 1379.1 L1611.0 1379.7 L1613.0 1380.4 L1615.0 1381.0 L1617.0 1381.7 L1619.0 1382.3 L1621.0 1382.9 L1623.0 1383.6 L1625.0 1384.2 L1627.0 1384.8 L1629.0 1385.4 L1631.0 1386.0 L1633.0 1386.6 L1635.0 1387.2 L1637.0 1387.8 L1639.0 1388.3 L1641.0 1388.9 L1643.0 1389.5 L1645.0 1390.0 L1647.0 1390.6 L1649.0 1391.1 L1651.0 1391.7 L1653.0 1392.2 L1655.0 1392.7 L1657.0 1393.3 L1659.0 1393.8 L1661.0 1394.3 L1663.0 1394.8 L1665.0 1395.3 L1667.0 1395.9 L1669.0 1396.4 L1671.0 1396.9 L1673.0 1397.3 L1675.0 1397.8 L1677.0 1398.3 L1679.0 1398.8 L1681.0 1399.3 L1683.0 1399.7 L1685.0 1400.2 L1687.0 1400.7 L1689.0 1401.1 L1691.0 1401.6 L1693.0 1402.0 L1695.0 1402.5 L1697.0 1402.9 L1699.0 1403.4 L1701.0 1403.8 L1703.0 1404.2 L1705.0 1404.7 L1707.0 1405.1 L1709.0 1405.5 L1711.0 1405.9 L1713.0 1406.4 L1715.0 1406.8 L1717.0 1407.2 L1719.0 1407.6 L1721.0 1408.0 L1723.0 1408.4 L1725.0 1408.8 L1727.0 1409.2 L1729.0 1409.6 L1731.0 1410.0 L1733.0 1410.3 L1735.0 1410.7 L1737.0 1411.1 L1739.0 1411.5 L1741.0 1411.8 L1743.0 1412.2 L1745.0 1412.6 L1747.0 1412.9 L1749.0 1413.3 L1751.0 1413.7 L1753.0 1414.0 L1755.0 1414.4 L1757.0 1414.7 L1759.0 1415.1 L1761.0 1415.4 L1763.0 1415.8 L1765.0 1416.1 L1767.0 1416.4 L1769.0 1416.8 L1771.0 1417.1 L1773.0 1417.4 L1775.0 1417.8 L1777.0 1418.1 L1779.0 1418.4 L1781.0 1418.7 L1783.0 1419.1 L1785.0 1419.4 L1787.0 1419.7 L1789.0 1420.0 L1791.0 1420.3 L1793.0 1420.6 L1795.0 1420.9 L1797.0 1421.2 L1799.0 1421.5 L1801.0 1421.8 L1803.0 1422.1 L1805.0 1422.4 L1807.0 1422.7 L1809.0 1423.0 L1811.0 1423.3 L1813.0 1423.6 L1815.0 1423.9 L1817.0 1424.1 L1819.0 1424.4 L1821.0 1424.7 L1823.0 1425.0 L1825.0 1425.3 L1827.0 1425.5 L1829.0 1425.8 L1831.0 1426.1 L1833.0 1426.3 L1835.0 1426.6 L1837.0 1426.9 L1839.0 1427.1 L1841.0 1427.4 L1843.0 1427.6 L1845.0 1427.9 L1847.0 1428.2 L1849.0 1428.4 L1851.0 1428.7 L1853.0 1428.9 L1855.0 1429.2 L1857.0 1429.4 L1859.0 1429.7 L1861.0 1429.9 L1863.0 1430.2 L1865.0 1430.4 L1867.0 1430.6 L1869.0 1430.9 L1871.0 1431.1 L1873.0 1431.4 L1875.0 1431.6 L1877.0 1431.8 L1879.0 1432.1 L1881.0 1432.3 L1883.0 1432.5 L1885.0 1432.7 L1887.0 1433.0 L1889.0 1433.2 L1891.0 1433.4 L1893.0 1433.6 L1895.0 1433.9 L1897.0 1434.1 L1899.0 1434.3 L1901.0 1434.5 L1903.0 1434.7 L1905.0 1434.9 L1907.0 1435.2 L1909.0 1435.4 L1911.0 1435.6 L1913.0 1435.8 L1915.0 1436.0 L1917.0 1436.2 L1919.0 1436.4 L1921.0 1436.6 L1923.0 1436.8 L1925.0 1437.0 L1927.0 1437.2 L1929.0 1437.4 L1931.0 1437.6 L1933.0 1437.8 L1935.0 1438.0 L1937.0 1438.2 L1939.0 1438.4 L1941.0 1438.6 L1943.0 1438.8 L1945.0 1439.0 L1947.0 1439.2 L1949.0 1439.4 L1951.0 1439.6 L1953.0 1439.7 L1955.0 1439.9 L1957.0 1440.1 L1959.0 1440.3 L1961.0 1440.5 L1963.0 1440.7 L1965.0 1440.8 L1967.0 1441.0 L1969.0 1441.2 L1971.0 1441.4 L1973.0 1441.6 L1975.0 1441.7 L1977.0 1441.9 L1979.0 1442.1 L1981.0 1442.3 L1983.0 1442.4 L1985.0 1442.6 L1987.0 1442.8 L1989.0 1442.9 L1991.0 1443.1 L1993.0 1443.3 L1995.0 1443.5 L1997.0 1443.6 L1999.0 1443.8 L2001.0 1443.9 L2003.0 1444.1 L2005.0 1444.3 L2007.0 1444.4 L2009.0 1444.6 L2011.0 1444.8 L2013.0 1444.9 L2015.0 1445.1 L2017.0 1445.2 L2019.0 1445.4 L2021.0 1445.6 L2023.0 1445.7 L2025.0 1445.9 L2027.0 1446.0 L2029.0 1446.2 L2031.0 1446.3 L2033.0 1446.5 L2035.0 1446.6 L2037.0 1446.8 L2039.0 1446.9 L2041.0 1447.1 L2043.0 1447.2 L2045.0 1447.4 L2047.0 1447.5 L2049.0 1447.7 L2051.0 1447.8 L2053.0 1448.0 L2055.0 1448.1 L2057.0 1448.2 L2059.0 1448.4 L2061.0 1448.5 L2063.0 1448.7 L2065.0 1448.8 L2067.0 1449.0 L2069.0 1449.1 L2071.0 1449.2 L2073.0 1449.4 L2075.0 1449.5 L2077.0 1449.6 L2079.0 1449.8 L2081.0 1449.9 L2083.0 1450.1 L2085.0 1450.2 L2087.0 1450.3 L2089.0 1450.5 L2091.0 1450.6 L2093.0 1450.7 L2095.0 1450.9 L2097.0 1451.0 L2099.0 1451.1 L2101.0 1451.2 L2103.0 1451.4 L2105.0 1451.5 L2107.0 1451.6 L2109.0 1451.8 L2111.0 1451.9 L2113.0 1452.0 L2115.0 1452.1 L2117.0 1452.3 L2119.0 1452.4 L2121.0 1452.5 L2123.0 1452.6 L2125.0 1452.8 L2127.0 1452.9 L2129.0 1453.0 L2131.0 1453.1 L2133.0 1453.2 L2135.0 1453.4 L2135.5 1453.4"/>
<path stroke="#ffff00" d="M341.0 1435.3 L343.0 1435.1 L345.0 1434.9 L347.0 1434.7 L349.0 1434.5 L351.0 1434.3 L353.0 1434.1 L355.0 1433.9 L357.0 1433.7 L359.0 1433.5 L361.0 1433.3 L363.0 1433.1 L365.0 1432.9 L367.0 1432.7 L369.0 1432.5 L371.0 1432.3 L373.0 1432.1 L375.0 1431.9 L377.0 1431.6 L379.0 1431.4 L381.0 1431.2 L383.0 1431.0 L385.0 1430.8 L387.0 1430.6 L389.0 1430.4 L391.0 1430.2 L393.0 1429.9 L395.0 1429.7 L397.0 1429.5 L399.0 1429.3 L401.0 1429.1 L403.0 1428.9 L405.0 1428.6 L407.0 1428.4 L409.0 1428.2 L411.0 1428.0 L413.0 1427.7 L415.0 1427.5 L417.0 1427.3 L419.0 1427.1 L421.0 1426.8 L423.0 1426.6 L425.0 1426.4 L427.0 1426.1 L429.0 1425.9 L431.0 1425.7 L433.0 1425.4 L435.0 1425.2 L437.0 1425.0 L439.0 1424.7 L441.0 1424.5 L443.0 1424.2 L445.0 1424.0 L447.0 1423.7 L449.0 1423.5 L451.0 1423.3 L453.0 1423.0 L455.0 1422.8 L457.0 1422.5 L459.0 1422.3 L461.0 1422.0 L463.0 1421.8 L465.0 1421.5 L467.0 1421.3 L469.0 1421.0 L471.0 1420.7 L473.0 1420.5 L475.0 1420.2 L477.0 1420.0 L479.0 1419.7 L481.0 1419.4 L483.0 1419.2 L485.0 1418.9 L487.0 1418.6 L489.0 1418.4 L491.0 1418.1 L493.0 1417.8 L495.0 1417.6 L497.0 1417.3 L499.0 1417.0 L501.0 1416.7 L503.0 1416.4 L505.0 1416.2 L507.0 1415.9 L509.0 1415.6 L511.0 1415.3 L513.0 1415.0 L515.0 1414.7 L517.0 1414.5 L519.0 1414.2 L521.0 1413.9 L523.0 1413.6 L525.0 1413.3 L527.0 1413.0 L529.0 1412.7 L531.0 1412.4 L533.0 1412.1 L535.0 1411.8 L537.0 1411.5 L539.0 1411.2 L541.0 1410.9 L543.0 1410.6 L545.0 1410.3 L547.0 1409.9 L549.0 1409.6 L551.0 1409.3 L553.0 1409.0 L555.0 1408.7 L557.0 1408.4 L559.0 1408.0 L561.0 1407.7 L563.0 1407.4 L565.0 1407.1 L567.0 1406.7 L569.0 1406.4 L571.0 1406.1 L573.0 1405.7 L575.0 1405.4 L577.0 1405.1 L579.0 1404.7 L581.0 1404.4 L583.0 1404.0 L585.0 1403.7 L587.0 1403.3 L589.0 1403.0 L591.0 1402.6 L593.0 1402.3 L595.0 1401.9 L597.0 1401.6 L599.0 1401.2 L601.0 1400.8 L603.0 1400.5 L605.0 1400.1 L607.0 1399.7 L609.0 1399.4 L611.0 1399.0 L613.0 1398.6 L615.0 1398.2 L617.0 1397.9 L619.0 1397.5 L621.0 1397.1 L623.0 1396.7 L625.0 1396.3 L627.0 1395.9 L629.0 1395.5 L631.0 1395.1 L633.0 1394.7 L635.0 1394.3 L637.0 1393.9 L639.0 1393.5 L641.0 1393.1 L643.0 1392.7 L645.0 1392.3 L647.0 1391.9 L649.0 1391.5 L651.0 1391.0 L653.0 1390.6 L655.0 1390.2 L657.0 1389.8 L659.0 1389.3 L661.0 1388.9 L663.0 1388.5 L665.0 1388.0 L667.0 1387.6 L669.0 1387.1 L671.0 1386.7 L673.0 1386.2 L675.0 1385.8 L677.0 1385.3 L679.0 1384.8 L681.0 1384.4 L683.0 1383.9 L685.0 1383.4 L687.0 1383.0 L689.0 1382.5 L691.0 1382.0 L693.0 1381.5 L695.0 1381.0 L697.0 1380.5 L699.0 1380.1 L701.0 1379.6 L703.0 1379.1 L705.0 1378.6 L707.0 1378.0 L709.0 1377.5 L711.0 1377.0 L713.0 1376.5 L715.0 1376.0 L717.0 1375.5 L719.0 1374.9 L721.0 1374.4 L723.0 1373.9 L725.0 1373.3 L727.0 1372.8 L729.0 1372.2 L731.0 1371.7 L733.0 1371.1 L735.0 1370.6 L737.0 1370.0 L739.0 1369.4 L741.0 1368.8 L743.0 1368.3 L745.0 1367.7 L747.0 1367.1 L749.0 1366.5 L751.0 1365.9 L753.0 1365.3 L755.0 1364.7 L757.0 1364.1 L759.0 1363.5 L761.0 1362.9 L763.0 1362.3 L765.0 1361.6 L767.0 1361.0 L769.0 1360.4 L771.0 1359.7 L773.0 1359.1 L775.0 1358.4 L777.0 1357.8 L779.0 1357.1 L781.0 1356.4 L783.0 1355.8 L785.0 1355.1 L787.0 1354.4 L789.0 1353.7 L791.0 1353.0 L793.0 1352.3 L795.0 1351.6 L797.0 1350.9 L799.0 1350.2 L801.0 1349.4 L803.0 1348.7 L805.0 1348.0 L807.0 1347.2 L809.0 1346.5 L811.0 1345.7 L813.0 1345.0 L815.0 1344.2 L817.0 1343.4 L819.0 1342.6 L821.0 1341.8 L823.0 1341.1 L825.0 1340.3 L827.0 1339.4 L829.0 1338.6 L831.0 1337.8 L833.0 1337.0 L835.0 1336.1 L837.0 1335.3 L839.0 1334.4 L841.0 1333.6 L843.0 1332.7 L845.0 1331.8 L847.0 1330.9 L849.0 1330.0 L851.0 1329.1 L853.0 1328.2 L855.0 1327.3 L857.0 1326.4 L859.0 1325.4 L861.0 1324.5 L863.0 1323.5 L865.0 1322.6 L867.0 1321.6 L869.0 1320.6 L871.0 1319.6 L873.0 1318.6 L875.0 1317.6 L877.0 1316.6 L879.0 1315.6 L881.0 1314.5 L883.0 1313.5 L885.0 1312.4 L887.0 1311.3 L889.0 1310.2 L891.0 1309.2 L893.0 1308.0 L895.0 1306.9 L897.0 1305.8 L899.0 1304.7 L901.0 1303.5 L903.0 1302.3 L905.0 1301.2 L907.0 1300.0 L909.0 1298.8 L911.0 1297.6 L913.0 1296.3 L915.0 1295.1 L917.0 1293.8 L919.0 1292.6 L921.0 1291.3 L923.0 1290.0 L925.0 1288.7 L927.0 1287.3 L929.0 1286.0 L931.0 1284.6 L933.0 1283.3 L935.0 1281.9 L937.0 1280.5 L939.0 1279.1 L941.0 1277.6 L943.0 1276.2 L945.0 1274.7 L947.0 1273.2 L949.0 1271.7 L951.0 1270.2 L953.0 1268.7 L955.0 1267.1 L957.0 1265.5 L959.0 1263.9 L961.0 1262.3 L963.0 1260.7 L965.0 1259.0 L967.0 1257.4 L969.0 1255.7 L971.0 1254.0 L973.0 1252.2 L975.0 1250.5 L977.0 1248.7 L979.0 1246.9 L981.0 1245.0 L983.0 1243.2 L985.0 1241.3 L987.0 1239.4 L989.0 1237.5 L991.0 1235.5 L993.0 1233.6 L995.0 1231.6 L997.0 1229.5 L999.0 1227.5 L1001.0 1225.4 L1003.0 1223.3 L1005.0 1221.1 L1007.0 1219.0 L1009.0 1216.8 L1011.0 1214.5 L1013.0 1212.3 L1015.0 1210.0 L1017.0 1207.7 L1019.0 1205.3 L1021.0 1202.9 L1023.0 1200.5 L1025.0 1198.0 L1027.0 1195.5 L1029.0 1193.0 L1031.0 1190.4 L1033.0 1187.8 L1035.0 1185.2 L1037.0 1182.5 L1039.0 1179.7 L1041.0 1177.0 L1043.0 1174.2 L1045.0 1171.3 L1047.0 1168.4 L1049.0 1165.5 L1051.0 1162.5 L1053.0 1159.5 L1055.0 1156.4 L1057.0 1153.2 L1059.0 1150.1 L1061.0 1146.8 L1063.0 1143.6 L1065.0 1140.2 L1067.0 1136.8 L1069.0 1133.4 L1071.0 1129.9 L1073.0 1126.3 L1075.0 1122.7 L1077.0 1119.1 L1079.0 1115.3 L1081.0 1111.5 L1083.0 1107.7 L1085.0 1103.8 L1087.0 1099.8 L1089.0 1095.7 L1091.0 1091.6 L1093.0 1087.4 L1095.0 1083.2 L1097.0 1078.8 L1099.0 1074.4 L1101.0 1069.9 L1103.0 1065.4 L1105.0 1060.8 L1107.0 1056.0 L1109.0 1051.2 L1111.0 1046.4 L1113.0 1041.4 L1115.0 1036.4 L1117.0 1031.2 L1119.0 1026.0 L1121.0 1020.7 L1123.0 1015.3 L1125.0 1009.8 L1127.0 1004.2 L1129.0 998.6 L1131.0 992.8 L1133.0 986.9 L1135.0 981.0 L1137.0 974.9 L1139.0 968.7 L1141.0 962.5 L1143.0 956.1 L1145.0 949.7 L1147.0 943.1 L1149.0 936.5 L1151.0 929.7 L1153.0 922.8 L1155.0 915.9 L1157.0 908.8 L1159.0 901.7 L1161.0 894.5 L1163.0 887.1 L1165.0 879.7 L1167.0 872.2 L1169.0 864.6 L1171.0 856.9 L1173.0 849.2 L1175.0 841.4 L1177.0 833.5 L1179.0 825.6 L1181.0 817.6 L1183.0 809.6 L1185.0 801.5 L1187.0 793.4 L1189.0 785.3 L1191.0 777.3 L1193.0 769.2 L1195.0 761.1 L1197.0 753.1 L1199.0 745.1 L1201.0 737.2 L1203.0 729.4 L1205.0 721.7 L1207.0 714.1 L1209.0 706.6 L1211.0 699.3 L1213.0 692.2 L1215.0 685.3 L1217.0 678.6 L1219.0 672.2 L1221.0 666.0 L1223.0 660.1 L1225.0 654.6 L1227.0 649.3 L1229.0 644.5 L1231.0 639.9 L1233.0 635.8 L1235.0 632.1 L1237.0 628.9 L1239.0 626.1 L1241.0 623.7 L1243.0 621.8 L1245.0 620.4 L1247.0 619.4 L1249.0 619.0 L1251.0 619.0 L1253.0 619.6 L1255.0 620.6 L1257.0 622.1 L1259.0 624.0 L1261.0 626.5 L1263.0 629.4 L1265.0 632.7 L1267.0 636.4 L1269.0 640.6 L1271.0 645.1 L1273.0 650.0 L1275.0 655.3 L1277.0 660.8 L1279.0 666.7 L1281.0 672.9 L1283.0 679.3 L1285.0 686.0 L1287.0 692.9 L1289.0 699.9 L1291.0 707.2 L1293.0 714.6 L1295.0 722.1 L1297.0 729.8 L1299.0 737.5 L1301.0 745.4 L1303.0 753.3 L1305.0 761.2 L1307.0 769.2 L1309.0 777.2 L1311.0 785.2 L1313.0 793.2 L1315.0 801.1 L1317.0 809.1 L1319.0 817.0 L1321.0 824.9 L1323.0 832.7 L1325.0 840.5 L1327.0 848.2 L1329.0 855.8 L1331.0 863.4 L1333.0 870.8 L1335.0 878.2 L1337.0 885.6 L1339.0 892.8 L1341.0 899.9 L1343.0 907.0 L1345.0 913.9 L1347.0 920.8 L1349.0 927.5 L1351.0 934.2 L1353.0 940.7 L1355.0 947.2 L1357.0 953.5 L1359.0 959.8 L1361.0 966.0 L1363.0 972.0 L1365.0 978.0 L1367.0 983.9 L1369.0 989.7 L1371.0 995.3 L1373.0 1000.9 L1375.0 1006.4 L1377.0 1011.8 L1379.0 1017.2 L1381.0 1022.4 L1383.0 1027.5 L1385.0 1032.6 L1387.0 1037.6 L1389.0 1042.5 L1391.0 1047.3 L1393.0 1052.0 L1395.0 1056.6 L1397.0 1061.2 L1399.0 1065.7 L1401.0 1070.1 L1403.0 1074.5 L1405.0 1078.8 L1407.0 1083.0 L1409.0 1087.1 L1411.0 1091.2 L1413.0 1095.2 L1415.0 1099.1 L1417.0 1103.0 L1419.0 1106.8 L1421.0 1110.5 L1423.0 1114.2 L1425.0 1117.8 L1427.0 1121.4 L1429.0 1124.9 L1431.0 1128.3 L1433.0 1131.7 L1435.0 1135.1 L1437.0 1138.4 L1439.0 1141.6 L1441.0 1144.8 L1443.0 1147.9 L1445.0 1151.0 L1447.0 1154.1 L1449.0 1157.1 L1451.0 1160.0 L1453.0 1162.9 L1455.0 1165.8 L1457.0 1168.6 L1459.0 1171.4 L1461.0 1174.1 L1463.0 1176.8 L1465.0 1179.5 L1467.0 1182.1 L1469.0 1184.7 L1471.0 1187.2 L1473.0 1189.7 L1475.0 1192.2 L1477.0 1194.6 L1479.0 1197.0 L1481.0 1199.4 L1483.0 1201.7 L1485.0 1204.0 L1487.0 1206.3 L1489.0 1208.5 L1491.0 1210.7 L1493.0 1212.9 L1495.0 1215.0 L1497.0 1217.2 L1499.0 1219.2 L1501.0 1221.3 L1503.0 1223.3 L1505.0 1225.3 L1507.0 1227.3 L1509.0 1229.3 L1511.0 1231.2 L1513.0 1233.1 L1515.0 1235.0 L1517.0 1236.9 L1519.0 1238.7 L1521.0 1240.5 L1523.0 1242.3 L1525.0 1244.0 L1527.0 1245.8 L1529.0 1247.5 L1531.0 1249.2 L1533.0 1250.9 L1535.0 1252.5 L1537.0 1254.2 L1539.0 1255.8 L1541.0 1257.4 L1543.0 1259.0 L1545.0 1260.5 L1547.0 1262.1 L1549.0 1263.6 L1551.0 1265.1 L1553.0 1266.6 L1555.0 1268.1 L1557.0 1269.5 L1559.0 1270.9 L1561.0 1272.4 L1563.0 1273.8 L1565.0 1275.2 L1567.0 1276.5 L1569.0 1277.9 L1571.0 1279.2 L1573.0 1280.6 L1575.0 1281.9 L1577.0 1283.2 L1579.0 1284.5 L1581.0 1285.7 L1583.0 1287.0 L1585.0 1288.2 L1587.0 1289.5 L1589.0 1290.7 L1591.0 1291.9 L1593.0 1293.1 L1595.0 1294.2 L1597.0 1295.4 L1599.0 1296.6 L1601.0 1297.7 L1603.0 1298.8 L1605.0 1299.9 L1607.0 1301.1 L1609.0 1302.2 L1611.0 1303.2 L1613.0 1304.3 L1615.0 1305.4 L1617.0 1306.4 L1619.0 1307.5 L1621.0 1308.5 L1623.0 1309.5 L1625.0 1310.5 L1627.0 1311.5 L1629.0 1312.5 L1631.0 1313.5 L1633.0 1314.5 L1635.0 1315.4 L1637.0 1316.4 L1639.0 1317.3 L1641.0 1318.3 L1643.0 1319.2 L1645.0 1320.1 L1647.0 1321.0 L1649.0 1321.9 L1651.0 1322.8 L1653.0 1323.7 L1655.0 1324.6 L1657.0 1325.5 L1659.0 1326.3 L1661.0 1327.2 L1663.0 1328.0 L1665.0 1328.9 L1667.0 1329.7 L1669.0 1330.5 L1671.0 1331.3 L1673.0 1332.1 L1675.0 1332.9 L1677.0 1333.7 L1679.0 1334.5 L1681.0 1335.3 L1683.0 1336.1 L1685.0 1336.8 L1687.0 1337.6 L1689.0 1338.4 L1691.0 1339.1 L1693.0 1339.8 L1695.0 1340.6 L1697.0 1341.3 L1699.0 1342.0 L1701.0 1342.7 L1703.0 1343.5 L1705.0 1344.2 L1707.0 1344.9 L1709.0 1345.6 L1711.0 1346.2 L1713.0 1346.9 L1715.0 1347.6 L1717.0 1348.3 L1719.0 1348.9 L1721.0 1349.6 L1723.0 1350.3 L1725.0 1350.9 L1727.0 1351.6 L1729.0 1352.2 L1731.0 1352.8 L1733.0 1353.5 L1735.0 1354.1 L1737.0 1354.7 L1739.0 1355.3 L1741.0 1355.9 L1743.0 1356.5 L1745.0 1357.1 L1747.0 1357.7 L1749.0 1358.3 L1751.0 1358.9 L1753.0 1359.5 L1755.0 1360.1 L1757.0 1360.6 L1759.0 1361.2 L1761.0 1361.8 L1763.0 1362.3 L1765.0 1362.9 L1767.0 1363.5 L1769.0 1364.0 L1771.0 1364.5 L1773.0 1365.1 L1775.0 1365.6 L1777.0 1366.2 L1779.0 1366.7 L1781.0 1367.2 L1783.0 1367.7 L1785.0 1368.3 L1787.0 1368.8 L1789.0 1369.3 L1791.0 1369.8 L1793.0 1370.3 L1795.0 1370.8 L1797.0 1371.3 L1799.0 1371.8 L1801.0 1372.3 L1803.0 1372.8 L1805.0 1373.2 L1807.0 1373.7 L1809.0 1374.2 L1811.0 1374.7 L1813.0 1375.1 L1815.0 1375.6 L1817.0 1376.1 L1819.0 1376.5 L1821.0 1377.0 L1823.0 1377.5 L1825.0 1377.9 L1827.0 1378.4 L1829.0 1378.8 L1831.0 1379.2 L1833.0 1379.7 L1835.0 1380.1 L1837.0 1380.6 L1839.0 1381.0 L1841.0 1381.4 L1843.0 1381.8 L1845.0 1382.3 L1847.0 1382.7 L1849.0 1383.1 L1851.0 1383.5 L1853.0 1383.9 L1855.0 1384.3 L1857.0 1384.7 L1859.0 1385.1 L1861.0 1385.5 L1863.0 1385.9 L1865.0 1386.3 L1867.0 1386.7 L1869.0 1387.1 L1871.0 1387.5 L1873.0 1387.9 L1875.0 1388.3 L1877.0 1388.7 L1879.0 1389.1 L1881.0 1389.4 L1883.0 1389.8 L1885.0 1390.2 L1887.0 1390.6 L1889.0 1390.9 L1891.0 1391.3 L1893.0 1391.7 L1895.0 1392.0 L1897.0 1392.4 L1899.0 1392.7 L1901.0 1393.1 L1903.0 1393.4 L1905.0 1393.8 L1907.0 1394.1 L1909.0 1394.5 L1911.0 1394.8 L1913.0 1395.2 L1915.0 1395.5 L1917.0 1395.9 L1919.0 1396.2 L1921.0 1396.5 L1923.0 1396.9 L1925.0 1397.2 L1927.0 1397.5 L1929.0 1397.9 L1931.0 1398.2 L1933.0 1398.5 L1935.0 1398.8 L1937.0 1399.2 L1939.0 1399.5 L1941.0 1399.8 L1943.0 1400.1 L1945.0 1400.4 L1947.0 1400.7 L1949.0 1401.0 L1951.0 1401.3 L1953.0 1401.7 L1955.0 1402.0 L1957.0 1402.3 L1959.0 1402.6 L1961.0 1402.9 L1963.0 1403.2 L1965.0 1403.5 L1967.0 1403.8 L1969.0 1404.1 L1971.0 1404.3 L1973.0 1404.6 L1975.0 1404.9 L1977.0 1405.2 L1979.0 1405.5 L1981.0 1405.8 L1983.0 1406.1 L1985.0 1406.3 L1987.0 1406.6 L1989.0 1406.9 L1991.0 1407.2 L1993.0 1407.5 L1995.0 1407.7 L1997.0 1408.0 L1999.0 1408.3 L2001.0 1408.5 L2003.0 1408.8 L2005.0 1409.1 L2007.0 1409.3 L2009.0 1409.6 L2011.0 1409.9 L2013.0 1410.1 L2015.0 1410.4 L2017.0 1410.7 L2019.0 1410.9 L2021.0 1411.2 L2023.0 1411.4 L2025.0 1411.7 L2027.0 1411.9 L2029.0 1412.2 L2031.0 1412.4 L2033.0 1412.7 L2035.0 1412.9 L2037.0 1413.2 L2039.0 1413.4 L2041.0 1413.7 L2043.0 1413.9 L2045.0 1414.2 L2047.0 1414.4 L2049.0 1414.6 L2051.0 1414.9 L2053.0 1415.1 L2055.0 1415.3 L2057.0 1415.6 L2059.0 1415.8 L2061.0 1416.0 L2063.0 1416.3 L2065.0 1416.5 L2067.0 1416.7 L2069.0 1417.0 L2071.0 1417.2 L2073.0 1417.4 L2075.0 1417.6 L2077.0 1417.9 L2079.0 1418.1 L2081.0 1418.3 L2083.0 1418.5 L2085.0 1418.8 L2087.0 1419.0 L2089.0 1419.2 L2091.0 1419.4 L2093.0 1419.6 L2095.0 1419.8 L2097.0 1420.1 L2099.0 1420.3 L2101.0 1420.5 L2103.0 1420.7 L2105.0 1420.9 L2107.0 1421.1 L2109.0 1421.3 L2111.0 1421.5 L2113.0 1421.7 L2115.0 1421.9 L2117.0 1422.1 L2119.0 1422.3 L2121.0 1422.6 L2123.0 1422.8 L2125.0 1423.0 L2127.0 1423.2 L2129.0 1423.4 L2131.0 1423.6 L2133.0 1423.7 L2135.0 1423.9 L2135.5 1424.0"/>
<path stroke="#9900ff" d="M341.0 1373.5 L343.0 1373.3 L345.0 1373.0 L347.0 1372.7 L349.0 1372.4 L351.0 1372.2 L353.0 1371.9 L355.0 1371.6 L357.0 1371.3 L359.0 1371.1 L361.0 1370.8 L363.0 1370.5 L365.0 1370.2 L367.0 1369.9 L369.0 1369.7 L371.0 1369.4 L373.0 1369.1 L375.0 1368.8 L377.0 1368.5 L379.0 1368.2 L381.0 1367.9 L383.0 1367.6 L385.0 1367.3 L387.0 1367.1 L389.0 1366.8 L391.0 1366.5 L393.0 1366.2 L395.0 1365.9 L397.0 1365.6 L399.0 1365.2 L401.0 1364.9 L403.0 1364.6 L405.0 1364.3 L407.0 1364.0 L409.0 1363.7 L411.0 1363.4 L413.0 1363.1 L415.0 1362.8 L417.0 1362.5 L419.0 1362.1 L421.0 1361.8 L423.0 1361.5 L425.0 1361.2 L427.0 1360.8 L429.0 1360.5 L431.0 1360.2 L433.0 1359.9 L435.0 1359.5 L437.0 1359.2 L439.0 1358.9 L441.0 1358.5 L443.0 1358.2 L445.0 1357.9 L447.0 1357.5 L449.0 1357.2 L451.0 1356.8 L453.0 1356.5 L455.0 1356.1 L457.0 1355.8 L459.0 1355.4 L461.0 1355.1 L463.0 1354.7 L465.0 1354.4 L467.0 1354.0 L469.0 1353.7 L471.0 1353.3 L473.0 1352.9 L475.0 1352.6 L477.0 1352.2 L479.0 1351.8 L481.0 1351.5 L483.0 1351.1 L485.0 1350.7 L487.0 1350.3 L489.0 1350.0 L491.0 1349.6 L493.0 1349.2 L495.0 1348.8 L497.0 1348.4 L499.0 1348.1 L501.0 1347.7 L503.0 1347.3 L505.0 1346.9 L507.0 1346.5 L509.0 1346.1 L511.0 1345.7 L513.0 1345.3 L515.0 1344.9 L517.0 1344.5 L519.0 1344.1 L521.0 1343.6 L523.0 1343.2 L525.0 1342.8 L527.0 1342.4 L529.0 1342.0 L531.0 1341.6 L533.0 1341.1 L535.0 1340.7 L537.0 1340.3 L539.0 1339.8 L541.0 1339.4 L543.0 1339.0 L545.0 1338.5 L547.0 1338.1 L549.0 1337.7 L551.0 1337.2 L553.0 1336.8 L555.0 1336.3 L557.0 1335.9 L559.0 1335.4 L561.0 1334.9 L563.0 1334.5 L565.0 1334.0 L567.0 1333.6 L569.0 1333.1 L571.0 1332.6 L573.0 1332.1 L575.0 1331.7 L577.0 1331.2 L579.0 1330.7 L581.0 1330.2 L583.0 1329.7 L585.0 1329.2 L587.0 1328.7 L589.0 1328.2 L591.0 1327.7 L593.0 1327.2 L595.0 1326.7 L597.0 1326.2 L599.0 1325.7 L601.0 1325.2 L603.0 1324.7 L605.0 1324.1 L607.0 1323.6 L609.0 1323.1 L611.0 1322.6 L613.0 1322.0 L615.0 1321.5 L617.0 1321.0 L619.0 1320.4 L621.0 1319.9 L623.0 1319.3 L625.0 1318.8 L627.0 1318.2 L629.0 1317.6 L631.0 1317.1 L633.0 1316.5 L635.0 1315.9 L637.0 1315.4 L639.0 1314.8 L641.0 1314.2 L643.0 1313.6 L645.0 1313.0 L647.0 1312.4 L649.0 1311.8 L651.0 1311.2 L653.0 1310.6 L655.0 1310.0 L657.0 1309.4 L659.0 1308.8 L661.0 1308.1 L663.0 1307.5 L665.0 1306.9 L667.0 1306.3 L669.0 1305.6 L671.0 1305.0 L673.0 1304.3 L675.0 1303.7 L677.0 1303.0 L679.0 1302.4 L681.0 1301.7 L683.0 1301.0 L685.0 1300.3 L687.0 1299.7 L689.0 1299.0 L691.0 1298.3 L693.0 1297.6 L695.0 1296.9 L697.0 1296.2 L699.0 1295.5 L701.0 1294.8 L703.0 1294.1 L705.0 1293.3 L707.0 1292.6 L709.0 1291.9 L711.0 1291.1 L713.0 1290.4 L715.0 1289.6 L717.0 1288.9 L719.0 1288.1 L721.0 1287.4 L723.0 1286.6 L725.0 1285.8 L727.0 1285.0 L729.0 1284.2 L731.0 1283.4 L733.0 1282.6 L735.0 1281.8 L737.0 1281.0 L739.0 1280.2 L741.0 1279.4 L743.0 1278.6 L745.0 1277.7 L747.0 1276.9 L749.0 1276.0 L751.0 1275.2 L753.0 1274.3 L755.0 1273.4 L757.0 1272.6 L759.0 1271.7 L761.0 1270.8 L763.0 1269.9 L765.0 1269.0 L767.0 1268.1 L769.0 1267.2 L771.0 1266.2 L773.0 1265.3 L775.0 1264.4 L777.0 1263.4 L779.0 1262.5 L781.0 1261.5 L783.0 1260.5 L785.0 1259.5 L787.0 1258.5 L789.0 1257.6 L791.0 1256.5 L793.0 1255.5 L795.0 1254.5 L797.0 1253.5 L799.0 1252.4 L801.0 1251.4 L803.0 1250.3 L805.0 1249.3 L807.0 1248.2 L809.0 1247.1 L811.0 1246.0 L813.0 1244.9 L815.0 1243.8 L817.0 1242.7 L819.0 1241.6 L821.0 1240.4 L823.0 1239.3 L825.0 1238.1 L827.0 1236.9 L829.0 1235.7 L831.0 1234.6 L833.0 1233.4 L835.0 1232.1 L837.0 1230.9 L839.0 1229.7 L841.0 1228.4 L843.0 1227.2 L845.0 1225.9 L847.0 1224.6 L849.0 1223.3 L851.0 1222.0 L853.0 1220.7 L855.0 1219.4 L857.0 1218.0 L859.0 1216.6 L861.0 1215.3 L863.0 1213.9 L865.0 1212.5 L867.0 1211.1 L869.0 1209.7 L871.0 1208.2 L873.0 1206.8 L875.0 1205.3 L877.0 1203.8 L879.0 1202.3 L881.0 1200.8 L883.0 1199.3 L885.0 1197.7 L887.0 1196.2 L889.0 1194.6 L891.0 1193.0 L893.0 1191.4 L895.0 1189.8 L897.0 1188.1 L899.0 1186.5 L901.0 1184.8 L903.0 1183.1 L905.0 1181.4 L907.0 1179.7 L909.0 1177.9 L911.0 1176.2 L913.0 1174.4 L915.0 1172.6 L917.0 1170.7 L919.0 1168.9 L921.0 1167.0 L923.0 1165.1 L925.0 1163.2 L927.0 1161.3 L929.0 1159.4 L931.0 1157.4 L933.0 1155.4 L935.0 1153.4 L937.0 1151.3 L939.0 1149.3 L941.0 1147.2 L943.0 1145.1 L945.0 1142.9 L947.0 1140.8 L949.0 1138.6 L951.0 1136.4 L953.0 1134.1 L955.0 1131.9 L957.0 1129.6 L959.0 1127.2 L961.0 1124.9 L963.0 1122.5 L965.0 1120.1 L967.0 1117.7 L969.0 1115.2 L971.0 1112.7 L973.0 1110.2 L975.0 1107.6 L977.0 1105.0 L979.0 1102.4 L981.0 1099.7 L983.0 1097.0 L985.0 1094.3 L987.0 1091.5 L989.0 1088.7 L991.0 1085.9 L993.0 1083.0 L995.0 1080.1 L997.0 1077.1 L999.0 1074.1 L1001.0 1071.1 L1003.0 1068.0 L1005.0 1064.9 L1007.0 1061.7 L1009.0 1058.5 L1011.0 1055.2 L1013.0 1051.9 L1015.0 1048.6 L1017.0 1045.2 L1019.0 1041.7 L1021.0 1038.3 L1023.0 1034.7 L1025.0 1031.1 L1027.0 1027.5 L1029.0 1023.8 L1031.0 1020.0 L1033.0 1016.2 L1035.0 1012.3 L1037.0 1008.4 L1039.0 1004.4 L1041.0 1000.4 L1043.0 996.3 L1045.0 992.1 L1047.0 987.9 L1049.0 983.6 L1051.0 979.2 L1053.0 974.8 L1055.0 970.3 L1057.0 965.7 L1059.0 961.1 L1061.0 956.4 L1063.0 951.6 L1065.0 946.7 L1067.0 941.8 L1069.0 936.7 L1071.0 931.6 L1073.0 926.4 L1075.0 921.1 L1077.0 915.8 L1079.0 910.3 L1081.0 904.8 L1083.0 899.1 L1085.0 893.4 L1087.0 887.6 L1089.0 881.7 L1091.0 875.6 L1093.0 869.5 L1095.0 863.3 L1097.0 857.0 L1099.0 850.5 L1101.0 844.0 L1103.0 837.3 L1105.0 830.5 L1107.0 823.6 L1109.0 816.6 L1111.0 809.5 L1113.0 802.2 L1115.0 794.8 L1117.0 787.3 L1119.0 779.7 L1121.0 771.9 L1123.0 764.0 L1125.0 756.0 L1127.0 747.8 L1129.0 739.5 L1131.0 731.1 L1133.0 722.5 L1135.0 713.8 L1137.0 704.9 L1139.0 695.9 L1141.0 686.7 L1143.0 677.4 L1145.0 668.0 L1147.0 658.4 L1149.0 648.6 L1151.0 638.7 L1153.0 628.7 L1155.0 618.5 L1157.0 608.2 L1159.0 597.7 L1161.0 587.1 L1163.0 576.4 L1165.0 565.5 L1167.0 554.5 L1169.0 543.4 L1171.0 532.2 L1173.0 520.9 L1175.0 509.5 L1177.0 497.9 L1179.0 486.3 L1181.0 474.7 L1183.0 462.9 L1185.0 451.1 L1187.0 439.3 L1189.0 427.5 L1191.0 415.7 L1193.0 403.9 L1195.0 392.1 L1197.0 380.4 L1199.0 368.7 L1201.0 357.2 L1203.0 345.8 L1205.0 334.6 L1207.0 323.6 L1209.0 312.7 L1211.0 302.1 L1213.0 291.8 L1215.0 281.8 L1217.0 272.2 L1219.0 262.9 L1221.0 254.0 L1223.0 245.6 L1225.0 237.6 L1227.0 230.2 L1229.0 223.2 L1231.0 216.9 L1233.0 211.2 L1235.0 206.0 L1237.0 201.6 L1239.0 197.8 L1241.0 194.6 L1243.0 192.2 L1245.0 190.6 L1247.0 189.6 L1249.0 189.4 L1251.0 189.9 L1253.0 191.1 L1255.0 193.1 L1257.0 195.8 L1259.0 199.2 L1261.0 203.3 L1263.0 208.1 L1265.0 213.5 L1267.0 219.6 L1269.0 226.3 L1271.0 233.5 L1273.0 241.3 L1275.0 249.6 L1277.0 258.3 L1279.0 267.6 L1281.0 277.2 L1283.0 287.2 L1285.0 297.6 L1287.0 308.2 L1289.0 319.2 L1291.0 330.4 L1293.0 341.8 L1295.0 353.4 L1297.0 365.2 L1299.0 377.0 L1301.0 389.0 L1303.0 401.1 L1305.0 413.3 L1307.0 425.4 L1309.0 437.6 L1311.0 449.8 L1313.0 462.0 L1315.0 474.1 L1317.0 486.2 L1319.0 498.2 L1321.0 510.1 L1323.0 522.0 L1325.0 533.7 L1327.0 545.4 L1329.0 556.9 L1331.0 568.3 L1333.0 579.6 L1335.0 590.8 L1337.0 601.8 L1339.0 612.7 L1341.0 623.4 L1343.0 634.0 L1345.0 644.5 L1347.0 654.8 L1349.0 664.9 L1351.0 674.9 L1353.0 684.7 L1355.0 694.4 L1357.0 704.0 L1359.0 713.4 L1361.0 722.6 L1363.0 731.7 L1365.0 740.6 L1367.0 749.4 L1369.0 758.0 L1371.0 766.5 L1373.0 774.9 L1375.0 783.1 L1377.0 791.2 L1379.0 799.1 L1381.0 806.9 L1383.0 814.6 L1385.0 822.2 L1387.0 829.6 L1389.0 836.9 L1391.0 844.0 L1393.0 851.1 L1395.0 858.0 L1397.0 864.8 L1399.0 871.5 L1401.0 878.1 L1403.0 884.5 L1405.0 890.9 L1407.0 897.1 L1409.0 903.3 L1411.0 909.3 L1413.0 915.2 L1415.0 921.1 L1417.0 926.8 L1419.0 932.5 L1421.0 938.0 L1423.0 943.5 L1425.0 948.9 L1427.0 954.2 L1429.0 959.4 L1431.0 964.5 L1433.0 969.5 L1435.0 974.5 L1437.0 979.4 L1439.0 984.2 L1441.0 988.9 L1443.0 993.5 L1445.0 998.1 L1447.0 1002.6 L1449.0 1007.0 L1451.0 1011.4 L1453.0 1015.7 L1455.0 1019.9 L1457.0 1024.1 L1459.0 1028.2 L1461.0 1032.3 L1463.0 1036.3 L1465.0 1040.2 L1467.0 1044.1 L1469.0 1047.9 L1471.0 1051.6 L1473.0 1055.3 L1475.0 1059.0 L1477.0 1062.6 L1479.0 1066.1 L1481.0 1069.6 L1483.0 1073.1 L1485.0 1076.4 L1487.0 1079.8 L1489.0 1083.1 L1491.0 1086.4 L1493.0 1089.6 L1495.0 1092.7 L1497.0 1095.9 L1499.0 1098.9 L1501.0 1102.0 L1503.0 1105.0 L1505.0 1107.9 L1507.0 1110.9 L1509.0 1113.7 L1511.0 1116.6 L1513.0 1119.4 L1515.0 1122.2 L1517.0 1124.9 L1519.0 1127.6 L1521.0 1130.2 L1523.0 1132.9 L1525.0 1135.5 L1527.0 1138.0 L1529.0 1140.6 L1531.0 1143.1 L1533.0 1145.5 L1535.0 1148.0 L1537.0 1150.4 L1539.0 1152.8 L1541.0 1155.1 L1543.0 1157.4 L1545.0 1159.7 L1547.0 1162.0 L1549.0 1164.2 L1551.0 1166.5 L1553.0 1168.6 L1555.0 1170.8 L1557.0 1172.9 L1559.0 1175.1 L1561.0 1177.1 L1563.0 1179.2 L1565.0 1181.2 L1567.0 1183.3 L1569.0 1185.3 L1571.0 1187.2 L1573.0 1189.2 L1575.0 1191.1 L1577.0 1193.0 L1579.0 1194.9 L1581.0 1196.8 L1583.0 1198.6 L1585.0 1200.4 L1587.0 1202.2 L1589.0 1204.0 L1591.0 1205.8 L1593.0 1207.5 L1595.0 1209.3 L1597.0 1211.0 L1599.0 1212.7 L1601.0 1214.3 L1603.0 1216.0 L1605.0 1217.6 L1607.0 1219.3 L1609.0 1220.9 L1611.0 1222.5 L1613.0 1224.0 L1615.0 1225.6 L1617.0 1227.1 L1619.0 1228.6 L1621.0 1230.2 L1623.0 1231.7 L1625.0 1233.1 L1627.0 1234.6 L1629.0 1236.1 L1631.0 1237.5 L1633.0 1238.9 L1635.0 1240.3 L1637.0 1241.7 L1639.0 1243.1 L1641.0 1244.5 L1643.0 1245.8 L1645.0 1247.2 L1647.0 1248.5 L1649.0 1249.8 L1651.0 1251.1 L1653.0 1252.4 L1655.0 1253.7 L1657.0 1255.0 L1659.0 1256.2 L1661.0 1257.5 L1663.0 1258.7 L1665.0 1260.0 L1667.0 1261.2 L1669.0 1262.4 L1671.0 1263.6 L1673.0 1264.7 L1675.0 1265.9 L1677.0 1267.1 L1679.0 1268.2 L1681.0 1269.4 L1683.0 1270.5 L1685.0 1271.6 L1687.0 1272.7 L1689.0 1273.8 L1691.0 1274.9 L1693.0 1276.0 L1695.0 1277.1 L1697.0 1278.1 L1699.0 1279.2 L1701.0 1280.2 L1703.0 1281.3 L1705.0 1282.3 L1707.0 1283.3 L1709.0 1284.3 L1711.0 1285.3 L1713.0 1286.3 L1715.0 1287.3 L1717.0 1288.3 L1719.0 1289.3 L1721.0 1290.2 L1723.0 1291.2 L1725.0 1292.1 L1727.0 1293.1 L1729.0 1294.0 L1731.0 1294.9 L1733.0 1295.9 L1735.0 1296.8 L1737.0 1297.7 L1739.0 1298.6 L1741.0 1299.5 L1743.0 1300.3 L1745.0 1301.2 L1747.0 1302.1 L1749.0 1302.9 L1751.0 1303.8 L1753.0 1304.6 L1755.0 1305.5 L1757.0 1306.3 L1759.0 1307.1 L1761.0 1308.0 L1763.0 1308.8 L1765.0 1309.6 L1767.0 1310.4 L1769.0 1311.2 L1771.0 1312.0 L1773.0 1312.8 L1775.0 1313.6 L1777.0 1314.3 L1779.0 1315.1 L1781.0 1315.9 L1783.0 1316.6 L1785.0 1317.4 L1787.0 1318.1 L1789.0 1318.9 L1791.0 1319.6 L1793.0 1320.3 L1795.0 1321.1 L1797.0 1321.8 L1799.0 1322.5 L1801.0 1323.2 L1803.0 1323.9 L1805.0 1324.6 L1807.0 1325.3 L1809.0 1326.0 L1811.0 1326.7 L1813.0 1327.4 L1815.0 1328.1 L1817.0 1328.7 L1819.0 1329.4 L1821.0 1330.1 L1823.0 1330.7 L1825.0 1331.4 L1827.0 1332.0 L1829.0 1332.7 L1831.0 1333.3 L1833.0 1334.0 L1835.0 1334.6 L1837.0 1335.2 L1839.0 1335.8 L1841.0 1336.5 L1843.0 1337.1 L1845.0 1337.7 L1847.0 1338.3 L1849.0 1338.9 L1851.0 1339.5 L1853.0 1340.1 L1855.0 1340.7 L1857.0 1341.3 L1859.0 1341.9 L1861.0 1342.5 L1863.0 1343.0 L1865.0 1343.6 L1867.0 1344.2 L1869.0 1344.8 L1871.0 1345.3 L1873.0 1345.9 L1875.0 1346.4 L1877.0 1347.0 L1879.0 1347.5 L1881.0 1348.1 L1883.0 1348.6 L1885.0 1349.2 L1887.0 1349.7 L1889.0 1350.2 L1891.0 1350.8 L1893.0 1351.3 L1895.0 1351.8 L1897.0 1352.3 L1899.0 1352.8 L1901.0 1353.4 L1903.0 1353.9 L1905.0 1354.4 L1907.0 1354.9 L1909.0 1355.4 L1911.0 1355.9 L1913.0 1356.4 L1915.0 1356.9 L1917.0 1357.4 L1919.0 1357.8 L1921.0 1358.3 L1923.0 1358.8 L1925.0 1359.3 L1927.0 1359.8 L1929.0 1360.2 L1931.0 1360.7 L1933.0 1361.2 L1935.0 1361.6 L1937.0 1362.1 L1939.0 1362.6 L1941.0 1363.0 L1943.0 1363.5 L1945.0 1363.9 L1947.0 1364.4 L1949.0 1364.8 L1951.0 1365.3 L1953.0 1365.7 L1955.0 1366.2 L1957.0 1366.6 L1959.0 1367.0 L1961.0 1367.5 L1963.0 1367.9 L1965.0 1368.3 L1967.0 1368.7 L1969.0 1369.2 L1971.0 1369.6 L1973.0 1370.0 L1975.0 1370.4 L1977.0 1370.8 L1979.0 1371.2 L1981.0 1371.6 L1983.0 1372.1 L1985.0 1372.5 L1987.0 1372.9 L1989.0 1373.3 L1991.0 1373.7 L1993.0 1374.1 L1995.0 1374.4 L1997.0 1374.8 L1999.0 1375.2 L2001.0 1375.6 L2003.0 1376.0 L2005.0 1376.4 L2007.0 1376.8 L2009.0 1377.1 L2011.0 1377.5 L2013.0 1377.9 L2015.0 1378.3 L2017.0 1378.6 L2019.0 1379.0 L2021.0 1379.4 L2023.0 1379.8 L2025.0 1380.1 L2027.0 1380.5 L2029.0 1380.8 L2031.0 1381.2 L2033.0 1381.6 L2035.0 1381.9 L2037.0 1382.3 L2039.0 1382.6 L2041.0 1383.0 L2043.0 1383.3 L2045.0 1383.7 L2047.0 1384.0 L2049.0 1384.3 L2051.0 1384.7 L2053.0 1385.0 L2055.0 1385.4 L2057.0 1385.7 L2059.0 1386.0 L2061.0 1386.4 L2063.0 1386.7 L2065.0 1387.0 L2067.0 1387.4 L2069.0 1387.7 L2071.0 1388.0 L2073.0 1388.3 L2075.0 1388.7 L2077.0 1389.0 L2079.0 1389.3 L2081.0 1389.6 L2083.0 1389.9 L2085.0 1390.2 L2087.0 1390.6 L2089.0 1390.9 L2091.0 1391.2 L2093.0 1391.5 L2095.0 1391.8 L2097.0 1392.1 L2099.0 1392.4 L2101.0 1392.7 L2103.0 1393.0 L2105.0 1393.3 L2107.0 1393.6 L2109.0 1393.9 L2111.0 1394.2 L2113.0 1394.5 L2115.0 1394.8 L2117.0 1395.1 L2119.0 1395.4 L2121.0 1395.7 L2123.0 1395.9 L2125.0 1396.2 L2127.0 1396.5 L2129.0 1396.8 L2131.0 1397.1 L2133.0 1397.4 L2135.0 1397.6 L2135.5 1397.7"/>
<path stroke="#a0a0a0" d="M341.0 1367.5 L343.0 1367.2 L345.0 1366.9 L347.0 1366.7 L349.0 1366.4 L351.0 1366.1 L353.0 1365.8 L355.0 1365.6 L357.0 1365.3 L359.0 1365.0 L361.0 1364.7 L363.0 1364.4 L365.0 1364.2 L367.0 1363.9 L369.0 1363.6 L371.0 1363.3 L373.0 1363.0 L375.0 1362.7 L377.0 1362.4 L379.0 1362.2 L381.0 1361.9 L383.0 1361.6 L385.0 1361.3 L387.0 1361.0 L389.0 1360.7 L391.0 1360.4 L393.0 1360.1 L395.0 1359.8 L397.0 1359.5 L399.0 1359.2 L401.0 1358.9 L403.0 1358.6 L405.0 1358.2 L407.0 1357.9 L409.0 1357.6 L411.0 1357.3 L413.0 1357.0 L415.0 1356.7 L417.0 1356.4 L419.0 1356.0 L421.0 1355.7 L423.0 1355.4 L425.0 1355.1 L427.0 1354.7 L429.0 1354.4 L431.0 1354.1 L433.0 1353.8 L435.0 1353.4 L437.0 1353.1 L439.0 1352.8 L441.0 1352.4 L443.0 1352.1 L445.0 1351.7 L447.0 1351.4 L449.0 1351.0 L451.0 1350.7 L453.0 1350.4 L455.0 1350.0 L457.0 1349.7 L459.0 1349.3 L461.0 1348.9 L463.0 1348.6 L465.0 1348.2 L467.0 1347.9 L469.0 1347.5 L471.0 1347.1 L473.0 1346.8 L475.0 1346.4 L477.0 1346.0 L479.0 1345.7 L481.0 1345.3 L483.0 1344.9 L485.0 1344.5 L487.0 1344.2 L489.0 1343.8 L491.0 1343.4 L493.0 1343.0 L495.0 1342.6 L497.0 1342.2 L499.0 1341.8 L501.0 1341.4 L503.0 1341.1 L505.0 1340.7 L507.0 1340.3 L509.0 1339.9 L511.0 1339.4 L513.0 1339.0 L515.0 1338.6 L517.0 1338.2 L519.0 1337.8 L521.0 1337.4 L523.0 1337.0 L525.0 1336.6 L527.0 1336.1 L529.0 1335.7 L531.0 1335.3 L533.0 1334.9 L535.0 1334.4 L537.0 1334.0 L539.0 1333.6 L541.0 1333.1 L543.0 1332.7 L545.0 1332.2 L547.0 1331.8 L549.0 1331.3 L551.0 1330.9 L553.0 1330.4 L555.0 1330.0 L557.0 1329.5 L559.0 1329.1 L561.0 1328.6 L563.0 1328.1 L565.0 1327.7 L567.0 1327.2 L569.0 1326.7 L571.0 1326.2 L573.0 1325.7 L575.0 1325.3 L577.0 1324.8 L579.0 1324.3 L581.0 1323.8 L583.0 1323.3 L585.0 1322.8 L587.0 1322.3 L589.0 1321.8 L591.0 1321.3 L593.0 1320.8 L595.0 1320.3 L597.0 1319.7 L599.0 1319.2 L601.0 1318.7 L603.0 1318.2 L605.0 1317.7 L607.0 1317.1 L609.0 1316.6 L611.0 1316.0 L613.0 1315.5 L615.0 1315.0 L617.0 1314.4 L619.0 1313.9 L621.0 1313.3 L623.0 1312.7 L625.0 1312.2 L627.0 1311.6 L629.0 1311.0 L631.0 1310.5 L633.0 1309.9 L635.0 1309.3 L637.0 1308.7 L639.0 1308.1 L641.0 1307.6 L643.0 1307.0 L645.0 1306.4 L647.0 1305.8 L649.0 1305.1 L651.0 1304.5 L653.0 1303.9 L655.0 1303.3 L657.0 1302.7 L659.0 1302.0 L661.0 1301.4 L663.0 1300.8 L665.0 1300.1 L667.0 1299.5 L669.0 1298.8 L671.0 1298.2 L673.0 1297.5 L675.0 1296.9 L677.0 1296.2 L679.0 1295.5 L681.0 1294.9 L683.0 1294.2 L685.0 1293.5 L687.0 1292.8 L689.0 1292.1 L691.0 1291.4 L693.0 1290.7 L695.0 1290.0 L697.0 1289.3 L699.0 1288.6 L701.0 1287.8 L703.0 1287.1 L705.0 1286.4 L707.0 1285.6 L709.0 1284.9 L711.0 1284.1 L713.0 1283.4 L715.0 1282.6 L717.0 1281.9 L719.0 1281.1 L721.0 1280.3 L723.0 1279.5 L725.0 1278.7 L727.0 1277.9 L729.0 1277.1 L731.0 1276.3 L733.0 1275.5 L735.0 1274.7 L737.0 1273.9 L739.0 1273.0 L741.0 1272.2 L743.0 1271.3 L745.0 1270.5 L747.0 1269.6 L749.0 1268.8 L751.0 1267.9 L753.0 1267.0 L755.0 1266.1 L757.0 1265.2 L759.0 1264.3 L761.0 1263.4 L763.0 1262.5 L765.0 1261.6 L767.0 1260.7 L769.0 1259.7 L771.0 1258.8 L773.0 1257.9 L775.0 1256.9 L777.0 1255.9 L779.0 1255.0 L781.0 1254.0 L783.0 1253.0 L785.0 1252.0 L787.0 1251.0 L789.0 1250.0 L791.0 1248.9 L793.0 1247.9 L795.0 1246.9 L797.0 1245.8 L799.0 1244.8 L801.0 1243.7 L803.0 1242.6 L805.0 1241.5 L807.0 1240.4 L809.0 1239.3 L811.0 1238.2 L813.0 1237.1 L815.0 1236.0 L817.0 1234.8 L819.0 1233.7 L821.0 1232.5 L823.0 1231.3 L825.0 1230.2 L827.0 1229.0 L829.0 1227.8 L831.0 1226.6 L833.0 1225.3 L835.0 1224.1 L837.0 1222.8 L839.0 1221.6 L841.0 1220.3 L843.0 1219.0 L845.0 1217.7 L847.0 1216.4 L849.0 1215.1 L851.0 1213.8 L853.0 1212.4 L855.0 1211.1 L857.0 1209.7 L859.0 1208.3 L861.0 1206.9 L863.0 1205.5 L865.0 1204.1 L867.0 1202.6 L869.0 1201.2 L871.0 1199.7 L873.0 1198.2 L875.0 1196.7 L877.0 1195.2 L879.0 1193.7 L881.0 1192.2 L883.0 1190.6 L885.0 1189.0 L887.0 1187.4 L889.0 1185.8 L891.0 1184.2 L893.0 1182.6 L895.0 1180.9 L897.0 1179.3 L899.0 1177.6 L901.0 1175.9 L903.0 1174.1 L905.0 1172.4 L907.0 1170.6 L909.0 1168.8 L911.0 1167.0 L913.0 1165.2 L915.0 1163.4 L917.0 1161.5 L919.0 1159.6 L921.0 1157.7 L923.0 1155.8 L925.0 1153.9 L927.0 1151.9 L929.0 1149.9 L931.0 1147.9 L933.0 1145.9 L935.0 1143.8 L937.0 1141.7 L939.0 1139.6 L941.0 1137.5 L943.0 1135.3 L945.0 1133.2 L947.0 1131.0 L949.0 1128.7 L951.0 1126.5 L953.0 1124.2 L955.0 1121.9 L957.0 1119.5 L959.0 1117.2 L961.0 1114.8 L963.0 1112.3 L965.0 1109.9 L967.0 1107.4 L969.0 1104.9 L971.0 1102.3 L973.0 1099.7 L975.0 1097.1 L977.0 1094.5 L979.0 1091.8 L981.0 1089.1 L983.0 1086.3 L985.0 1083.5 L987.0 1080.7 L989.0 1077.8 L991.0 1074.9 L993.0 1072.0 L995.0 1069.0 L997.0 1066.0 L999.0 1062.9 L1001.0 1059.8 L1003.0 1056.7 L1005.0 1053.5 L1007.0 1050.3 L1009.0 1047.0 L1011.0 1043.7 L1013.0 1040.3 L1015.0 1036.9 L1017.0 1033.4 L1019.0 1029.9 L1021.0 1026.4 L1023.0 1022.8 L1025.0 1019.1 L1027.0 1015.4 L1029.0 1011.6 L1031.0 1007.8 L1033.0 1003.9 L1035.0 999.9 L1037.0 995.9 L1039.0 991.9 L1041.0 987.7 L1043.0 983.6 L1045.0 979.3 L1047.0 975.0 L1049.0 970.6 L1051.0 966.1 L1053.0 961.6 L1055.0 957.0 L1057.0 952.4 L1059.0 947.6 L1061.0 942.8 L1063.0 937.9 L1065.0 933.0 L1067.0 927.9 L1069.0 922.8 L1071.0 917.6 L1073.0 912.3 L1075.0 906.9 L1077.0 901.4 L1079.0 895.8 L1081.0 890.2 L1083.0 884.4 L1085.0 878.6 L1087.0 872.6 L1089.0 866.6 L1091.0 860.5 L1093.0 854.2 L1095.0 847.8 L1097.0 841.4 L1099.0 834.8 L1101.0 828.1 L1103.0 821.3 L1105.0 814.4 L1107.0 807.4 L1109.0 800.2 L1111.0 792.9 L1113.0 785.5 L1115.0 778.0 L1117.0 770.3 L1119.0 762.5 L1121.0 754.6 L1123.0 746.6 L1125.0 738.4 L1127.0 730.0 L1129.0 721.6 L1131.0 712.9 L1133.0 704.2 L1135.0 695.3 L1137.0 686.2 L1139.0 677.0 L1141.0 667.7 L1143.0 658.2 L1145.0 648.5 L1147.0 638.7 L1149.0 628.8 L1151.0 618.7 L1153.0 608.5 L1155.0 598.1 L1157.0 587.6 L1159.0 576.9 L1161.0 566.1 L1163.0 555.1 L1165.0 544.1 L1167.0 532.9 L1169.0 521.5 L1171.0 510.1 L1173.0 498.5 L1175.0 486.9 L1177.0 475.1 L1179.0 463.3 L1181.0 451.4 L1183.0 439.4 L1185.0 427.4 L1187.0 415.3 L1189.0 403.3 L1191.0 391.2 L1193.0 379.2 L1195.0 367.2 L1197.0 355.3 L1199.0 343.4 L1201.0 331.7 L1203.0 320.0 L1205.0 308.6 L1207.0 297.3 L1209.0 286.3 L1211.0 275.5 L1213.0 265.0 L1215.0 254.8 L1217.0 245.0 L1219.0 235.6 L1221.0 226.5 L1223.0 217.9 L1225.0 209.8 L1227.0 202.3 L1229.0 195.2 L1231.0 188.8 L1233.0 183.0 L1235.0 177.8 L1237.0 173.2 L1239.0 169.4 L1241.0 166.3 L1243.0 163.8 L1245.0 162.1 L1247.0 161.2 L1249.0 161.0 L1251.0 161.6 L1253.0 162.9 L1255.0 165.0 L1257.0 167.7 L1259.0 171.3 L1261.0 175.5 L1263.0 180.4 L1265.0 186.0 L1267.0 192.2 L1269.0 199.1 L1271.0 206.5 L1273.0 214.5 L1275.0 223.0 L1277.0 232.0 L1279.0 241.4 L1281.0 251.3 L1283.0 261.5 L1285.0 272.1 L1287.0 283.1 L1289.0 294.3 L1291.0 305.8 L1293.0 317.4 L1295.0 329.3 L1297.0 341.3 L1299.0 353.5 L1301.0 365.8 L1303.0 378.1 L1305.0 390.6 L1307.0 403.0 L1309.0 415.5 L1311.0 427.9 L1313.0 440.4 L1315.0 452.8 L1317.0 465.2 L1319.0 477.4 L1321.0 489.7 L1323.0 501.8 L1325.0 513.8 L1327.0 525.7 L1329.0 537.5 L1331.0 549.2 L1333.0 560.7 L1335.0 572.1 L1337.0 583.4 L1339.0 594.5 L1341.0 605.5 L1343.0 616.3 L1345.0 627.0 L1347.0 637.5 L1349.0 647.9 L1351.0 658.1 L1353.0 668.2 L1355.0 678.1 L1357.0 687.8 L1359.0 697.4 L1361.0 706.9 L1363.0 716.2 L1365.0 725.3 L1367.0 734.3 L1369.0 743.1 L1371.0 751.8 L1373.0 760.3 L1375.0 768.7 L1377.0 777.0 L1379.0 785.1 L1381.0 793.1 L1383.0 800.9 L1385.0 808.6 L1387.0 816.2 L1389.0 823.7 L1391.0 831.0 L1393.0 838.2 L1395.0 845.3 L1397.0 852.2 L1399.0 859.0 L1401.0 865.8 L1403.0 872.4 L1405.0 878.9 L1407.0 885.2 L1409.0 891.5 L1411.0 897.7 L1413.0 903.8 L1415.0 909.7 L1417.0 915.6 L1419.0 921.4 L1421.0 927.0 L1423.0 932.6 L1425.0 938.1 L1427.0 943.5 L1429.0 948.8 L1431.0 954.1 L1433.0 959.2 L1435.0 964.3 L1437.0 969.3 L1439.0 974.2 L1441.0 979.0 L1443.0 983.7 L1445.0 988.4 L1447.0 993.0 L1449.0 997.5 L1451.0 1002.0 L1453.0 1006.4 L1455.0 1010.7 L1457.0 1015.0 L1459.0 1019.2 L1461.0 1023.3 L1463.0 1027.4 L1465.0 1031.4 L1467.0 1035.4 L1469.0 1039.3 L1471.0 1043.1 L1473.0 1046.9 L1475.0 1050.6 L1477.0 1054.3 L1479.0 1057.9 L1481.0 1061.5 L1483.0 1065.0 L1485.0 1068.4 L1487.0 1071.9 L1489.0 1075.2 L1491.0 1078.6 L1493.0 1081.8 L1495.0 1085.1 L1497.0 1088.3 L1499.0 1091.4 L1501.0 1094.5 L1503.0 1097.6 L1505.0 1100.6 L1507.0 1103.6 L1509.0 1106.5 L1511.0 1109.4 L1513.0 1112.3 L1515.0 1115.1 L1517.0 1117.9 L1519.0 1120.7 L1521.0 1123.4 L1523.0 1126.1 L1525.0 1128.7 L1527.0 1131.3 L1529.0 1133.9 L1531.0 1136.5 L1533.0 1139.0 L1535.0 1141.5 L1537.0 1144.0 L1539.0 1146.4 L1541.0 1148.8 L1543.0 1151.2 L1545.0 1153.5 L1547.0 1155.8 L1549.0 1158.1 L1551.0 1160.4 L1553.0 1162.6 L1555.0 1164.8 L1557.0 1167.0 L1559.0 1169.1 L1561.0 1171.3 L1563.0 1173.4 L1565.0 1175.5 L1567.0 1177.5 L1569.0 1179.6 L1571.0 1181.6 L1573.0 1183.6 L1575.0 1185.5 L1577.0 1187.5 L1579.0 1189.4 L1581.0 1191.3 L1583.0 1193.2 L1585.0 1195.0 L1587.0 1196.9 L1589.0 1198.7 L1591.0 1200.5 L1593.0 1202.3 L1595.0 1204.1 L1597.0 1205.8 L1599.0 1207.5 L1601.0 1209.2 L1603.0 1210.9 L1605.0 1212.6 L1607.0 1214.3 L1609.0 1215.9 L1611.0 1217.5 L1613.0 1219.1 L1615.0 1220.7 L1617.0 1222.3 L1619.0 1223.9 L1621.0 1225.4 L1623.0 1226.9 L1625.0 1228.4 L1627.0 1229.9 L1629.0 1231.4 L1631.0 1232.9 L1633.0 1234.3 L1635.0 1235.8 L1637.0 1237.2 L1639.0 1238.6 L1641.0 1240.0 L1643.0 1241.4 L1645.0 1242.8 L1647.0 1244.1 L1649.0 1245.5 L1651.0 1246.8 L1653.0 1248.1 L1655.0 1249.4 L1657.0 1250.7 L1659.0 1252.0 L1661.0 1253.3 L1663.0 1254.6 L1665.0 1255.8 L1667.0 1257.0 L1669.0 1258.3 L1671.0 1259.5 L1673.0 1260.7 L1675.0 1261.9 L1677.0 1263.1 L1679.0 1264.3 L1681.0 1265.4 L1683.0 1266.6 L1685.0 1267.7 L1687.0 1268.8 L1689.0 1270.0 L1691.0 1271.1 L1693.0 1272.2 L1695.0 1273.3 L1697.0 1274.4 L1699.0 1275.4 L1701.0 1276.5 L1703.0 1277.6 L1705.0 1278.6 L1707.0 1279.7 L1709.0 1280.7 L1711.0 1281.7 L1713.0 1282.7 L1715.0 1283.7 L1717.0 1284.7 L1719.0 1285.7 L1721.0 1286.7 L1723.0 1287.7 L1725.0 1288.6 L1727.0 1289.6 L1729.0 1290.6 L1731.0 1291.5 L1733.0 1292.4 L1735.0 1293.4 L1737.0 1294.3 L1739.0 1295.2 L1741.0 1296.1 L1743.0 1297.0 L1745.0 1297.9 L1747.0 1298.8 L1749.0 1299.7 L1751.0 1300.5 L1753.0 1301.4 L1755.0 1302.3 L1757.0 1303.1 L1759.0 1304.0 L1761.0 1304.8 L1763.0 1305.6 L1765.0 1306.5 L1767.0 1307.3 L1769.0 1308.1 L1771.0 1308.9 L1773.0 1309.7 L1775.0 1310.5 L1777.0 1311.3 L1779.0 1312.1 L1781.0 1312.9 L1783.0 1313.6 L1785.0 1314.4 L1787.0 1315.2 L1789.0 1315.9 L1791.0 1316.7 L1793.0 1317.4 L1795.0 1318.2 L1797.0 1318.9 L1799.0 1319.6 L1801.0 1320.4 L1803.0 1321.1 L1805.0 1321.8 L1807.0 1322.5 L1809.0 1323.2 L1811.0 1323.9 L1813.0 1324.6 L1815.0 1325.3 L1817.0 1326.0 L1819.0 1326.7 L1821.0 1327.3 L1823.0 1328.0 L1825.0 1328.7 L1827.0 1329.3 L1829.0 1330.0 L1831.0 1330.7 L1833.0 1331.3 L1835.0 1332.0 L1837.0 1332.6 L1839.0 1333.2 L1841.0 1333.9 L1843.0 1334.5 L1845.0 1335.1 L1847.0 1335.7 L1849.0 1336.4 L1851.0 1337.0 L1853.0 1337.6 L1855.0 1338.2 L1857.0 1338.8 L1859.0 1339.4 L1861.0 1340.0 L1863.0 1340.6 L1865.0 1341.1 L1867.0 1341.7 L1869.0 1342.3 L1871.0 1342.9 L1873.0 1343.5 L1875.0 1344.0 L1877.0 1344.6 L1879.0 1345.1 L1881.0 1345.7 L1883.0 1346.3 L1885.0 1346.8 L1887.0 1347.4 L1889.0 1347.9 L1891.0 1348.4 L1893.0 1349.0 L1895.0 1349.5 L1897.0 1350.0 L1899.0 1350.6 L1901.0 1351.1 L1903.0 1351.6 L1905.0 1352.1 L1907.0 1352.6 L1909.0 1353.2 L1911.0 1353.7 L1913.0 1354.2 L1915.0 1354.7 L1917.0 1355.2 L1919.0 1355.7 L1921.0 1356.2 L1923.0 1356.6 L1925.0 1357.1 L1927.0 1357.6 L1929.0 1358.1 L1931.0 1358.6 L1933.0 1359.1 L1935.0 1359.5 L1937.0 1360.0 L1939.0 1360.5 L1941.0 1360.9 L1943.0 1361.4 L1945.0 1361.9 L1947.0 1362.3 L1949.0 1362.8 L1951.0 1363.2 L1953.0 1363.7 L1955.0 1364.1 L1957.0 1364.6 L1959.0 1365.0 L1961.0 1365.4 L1963.0 1365.9 L1965.0 1366.3 L1967.0 1366.8 L1969.0 1367.2 L1971.0 1367.6 L1973.0 1368.0 L1975.0 1368.5 L1977.0 1368.9 L1979.0 1369.3 L1981.0 1369.7 L1983.0 1370.1 L1985.0 1370.5 L1987.0 1371.0 L1989.0 1371.4 L1991.0 1371.8 L1993.0 1372.2 L1995.0 1372.6 L1997.0 1373.0 L1999.0 1373.4 L2001.0 1373.8 L2003.0 1374.2 L2005.0 1374.6 L2007.0 1374.9 L2009.0 1375.3 L2011.0 1375.7 L2013.0 1376.1 L2015.0 1376.5 L2017.0 1376.9 L2019.0 1377.2 L2021.0 1377.6 L2023.0 1378.0 L2025.0 1378.4 L2027.0 1378.7 L2029.0 1379.1 L2031.0 1379.5 L2033.0 1379.8 L2035.0 1380.2 L2037.0 1380.5 L2039.0 1380.9 L2041.0 1381.3 L2043.0 1381.6 L2045.0 1382.0 L2047.0 1382.3 L2049.0 1382.7 L2051.0 1383.0 L2053.0 1383.4 L2055.0 1383.7 L2057.0 1384.0 L2059.0 1384.4 L2061.0 1384.7 L2063.0 1385.1 L2065.0 1385.4 L2067.0 1385.7 L2069.0 1386.1 L2071.0 1386.4 L2073.0 1386.7 L2075.0 1387.0 L2077.0 1387.4 L2079.0 1387.7 L2081.0 1388.0 L2083.0 1388.3 L2085.0 1388.7 L2087.0 1389.0 L2089.0 1389.3 L2091.0 1389.6 L2093.0 1389.9 L2095.0 1390.2 L2097.0 1390.6 L2099.0 1390.9 L2101.0 1391.2 L2103.0 1391.5 L2105.0 1391.8 L2107.0 1392.1 L2109.0 1392.4 L2111.0 1392.7 L2113.0 1393.0 L2115.0 1393.3 L2117.0 1393.6 L2119.0 1393.9 L2121.0 1394.2 L2123.0 1394.5 L2125.0 1394.8 L2127.0 1395.0 L2129.0 1395.3 L2131.0 1395.6 L2133.0 1395.9 L2135.0 1396.2 L2135.5 1396.3"/>
</g>
<g shape-rendering="crispEdges">
<rect x="1771" y="101" width="54" height="8" fill="#ff0000"/>
<rect x="1771" y="168.5" width="54" height="8" fill="#0000ff"/>
<rect x="1771" y="236" width="54" height="8" fill="#ff00ff"/>
<rect x="1771" y="303" width="54" height="8" fill="#008000"/>
<rect x="1771" y="371" width="54" height="8" fill="#ffff00"/>
<rect x="1771" y="438" width="54" height="8" fill="#9900ff"/>
<rect x="1771" y="505" width="54" height="8" fill="#a0a0a0"/>
</g>
<text filter="url(#bin)" transform="matrix(0.9775 0.0000 0.0000 1.0182 111.6005 63.9273)" font-size="68" xml:space="preserve">0.0025</text>
<text filter="url(#bin)" transform="matrix(0.9775 0.0000 0.0000 1.0182 111.6005 357.3273)" font-size="68" xml:space="preserve">0.0020</text>
<text filter="url(#bin)" transform="matrix(0.9775 0.0000 0.0000 1.0182 111.6005 650.7273)" font-size="68" xml:space="preserve">0.0015</text>
<text filter="url(#bin)" transform="matrix(0.9775 0.0000 0.0000 1.0182 111.6005 944.1273)" font-size="68" xml:space="preserve">0.0010</text>
<text filter="url(#bin)" transform="matrix(0.9775 0.0000 0.0000 1.0182 111.6005 1237.5273)" font-size="68" xml:space="preserve">0.0005</text>
<text filter="url(#bin)" transform="matrix(0.9775 0.0000 0.0000 1.0182 111.6005 1530.9273)" font-size="68" xml:space="preserve">0.0000</text>
<text filter="url(#bin)" transform="matrix(0.9696 0.0000 0.0000 0.9978 275.9152 1609.1022)" font-size="68" xml:space="preserve">4000</text>
<text filter="url(#bin)" transform="matrix(0.9696 0.0000 0.0000 0.9978 532.2723 1609.1022)" font-size="68" xml:space="preserve">4500</text>
<text filter="url(#bin)" transform="matrix(0.9844 0.0000 0.0000 0.9978 786.6533 1609.1022)" font-size="68" xml:space="preserve">5000</text>
<text filter="url(#bin)" transform="matrix(0.9844 0.0000 0.0000 0.9978 1043.0105 1609.1022)" font-size="68" xml:space="preserve">5500</text>
<text filter="url(#bin)" transform="matrix(0.9806 0.0000 0.0000 0.9978 1299.8673 1609.1022)" font-size="68" xml:space="preserve">6000</text>
<text filter="url(#bin)" transform="matrix(0.9806 0.0000 0.0000 0.9978 1556.2244 1609.1022)" font-size="68" xml:space="preserve">6500</text>
<text filter="url(#bin)" transform="matrix(0.9919 0.0000 0.0000 0.9978 1811.0711 1609.1022)" font-size="68" xml:space="preserve">7000</text>
<text filter="url(#bin)" transform="matrix(0.9919 0.0000 0.0000 0.9978 2067.4282 1609.1022)" font-size="68" xml:space="preserve">7500</text>
<text filter="url(#bin)" transform="matrix(0.9800 0.0000 0.0000 0.9868 996.1200 1727.8066)" font-size="74" xml:space="preserve">Frequency [Hz]</text>
<text filter="url(#bin)" transform="matrix(0.9966 0.0000 0.0000 1.0194 1126.3086 115.0806)" font-size="68" xml:space="preserve">5770 Hz</text>
<text filter="url(#bin)" transform="matrix(0.9915 0.0000 0.0000 0.9780 356.5212 106.3220)" font-size="67" xml:space="preserve">(<tspan dx="1.2">b</tspan><tspan dx="-1.2">)</tspan></text>
<text filter="url(#bin)" transform="matrix(0.0000 -0.9960 0.9594 0.0000 67.6498 1151.3289)" font-size="76" xml:space="preserve">|Voltage FRFs|</text>
<text filter="url(#bin)" transform="matrix(0.0000 -1.0117 0.9827 0.0000 67.0849 661.2116)" font-size="76" xml:space="preserve">[V/<tspan font-style="italic">g]</tspan></text>
<text filter="url(#bin)" transform="matrix(0.9409 0.0000 0.0000 0.9810 1835.6704 113.8095)" font-size="47" xml:space="preserve"><tspan font-style="italic">R</tspan><tspan dy="8.7" font-weight="bold">1</tspan><tspan dy="-8.7">=1MΩ</tspan></text>
<text filter="url(#bin)" transform="matrix(0.9409 0.0000 0.0000 0.9810 1835.6704 181.3095)" font-size="47" xml:space="preserve"><tspan font-style="italic">R</tspan><tspan dy="8.7" font-weight="bold">2</tspan><tspan dy="-8.7">=5MΩ</tspan></text>
<text filter="url(#bin)" transform="matrix(0.9461 0.0000 0.0000 0.9810 1835.6730 248.8095)" font-size="47" xml:space="preserve"><tspan font-style="italic">R</tspan><tspan dy="8.7" font-weight="bold">3</tspan><tspan dy="-8.7">=10MΩ</tspan></text>
<text filter="url(#bin)" transform="matrix(0.9461 0.0000 0.0000 0.9810 1835.6730 316.3095)" font-size="47" xml:space="preserve"><tspan font-style="italic">R</tspan><tspan dy="8.7" font-weight="bold">4</tspan><tspan dy="-8.7">=50MΩ</tspan></text>
<text filter="url(#bin)" transform="matrix(0.9279 0.0000 0.0000 0.9810 1835.6639 383.8095)" font-size="47" xml:space="preserve"><tspan font-style="italic">R</tspan><tspan dy="8.7" font-weight="bold">5</tspan><tspan dy="-8.7">=100MΩ</tspan></text>
<text filter="url(#bin)" transform="matrix(0.9442 0.0000 0.0000 0.9810 1835.6721 451.3095)" font-size="47" xml:space="preserve"><tspan font-style="italic">R</tspan><tspan dy="8.7" font-weight="bold">6</tspan><tspan dy="-8.7">=500MΩ</tspan></text>
<text filter="url(#bin)" transform="matrix(0.9589 0.0000 0.0000 0.9803 1835.7822 518.9514)" font-size="47" xml:space="preserve">Open-circuit</text>
</svg>
</body>
</html>
